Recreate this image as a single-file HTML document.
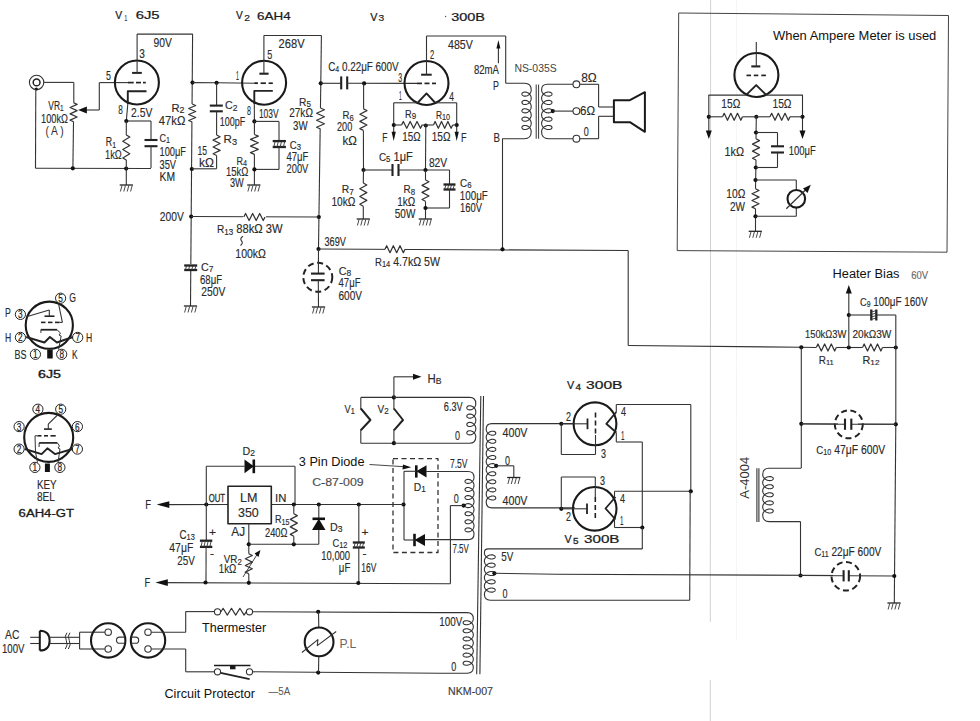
<!DOCTYPE html>
<html><head><meta charset="utf-8"><style>
html,body{margin:0;padding:0;background:#fff;}
body{width:980px;height:721px;overflow:hidden;}
svg{display:block;}
</style></head><body>
<svg width="980" height="721" viewBox="0 0 980 721" stroke-linecap="butt">
<rect width="980" height="721" fill="#fff"/>
<line x1="710.6" y1="0" x2="710.3" y2="622" stroke="#d2d2d2" stroke-width="1.0"/>
<line x1="710.3" y1="680" x2="710.3" y2="721" stroke="#d2d2d2" stroke-width="1.0"/>
<line x1="736.6" y1="0" x2="736.4" y2="640" stroke="#f1f1f1" stroke-width="0.8"/>
<circle cx="36.6" cy="82.4" r="7.2" fill="none" stroke="#333" stroke-width="1.1"/>
<circle cx="36.6" cy="82.4" r="3.4" fill="none" stroke="#222" stroke-width="1.5"/>
<circle cx="36.3" cy="89" r="1.6" fill="#111"/>
<line x1="43.8" y1="82.4" x2="73.8" y2="82.4" stroke="#333" stroke-width="1.1"/>
<line x1="73.8" y1="82.4" x2="73.8" y2="102.8" stroke="#333" stroke-width="1.1"/>
<polyline points="73.6,102.8 77.1,104.38 70.1,107.53 77.1,110.67 70.1,113.83 77.1,116.97 70.1,120.12 73.6,121.7" fill="none" stroke="#333" stroke-width="1.25" stroke-linejoin="round"/>
<line x1="73.5" y1="121.7" x2="72.9" y2="168.3" stroke="#333" stroke-width="1.1"/>
<line x1="35.8" y1="89" x2="35.5" y2="168.3" stroke="#333" stroke-width="1.1"/>
<line x1="35.5" y1="168.3" x2="151" y2="168.5" stroke="#333" stroke-width="1.1"/>
<circle cx="72.8" cy="168.3" r="2.1" fill="#111"/>
<circle cx="126.2" cy="168.6" r="2.1" fill="#111"/>
<line x1="128" y1="82.6" x2="99.5" y2="82.6" stroke="#333" stroke-width="1.1"/>
<line x1="99.3" y1="82.6" x2="99.3" y2="110" stroke="#333" stroke-width="1.1"/>
<line x1="99.3" y1="110" x2="86" y2="110" stroke="#333" stroke-width="1.1"/>
<polygon points="78.1,110 86.9,106.4 86.9,113.6" fill="#111"/>
<circle cx="136.9" cy="82.5" r="22" fill="none" stroke="#1a1a1a" stroke-width="2.1"/>
<line x1="137.1" y1="60.5" x2="137.1" y2="34.1" stroke="#333" stroke-width="1.1"/>
<line x1="137.1" y1="34.1" x2="192.8" y2="34.1" stroke="#333" stroke-width="1.1"/>
<line x1="132.1" y1="72.9" x2="141.8" y2="72.9" stroke="#222" stroke-width="2.0"/>
<line x1="137.1" y1="60.5" x2="137.1" y2="72.9" stroke="#333" stroke-width="1.1"/>
<line x1="128" y1="82.6" x2="133.7" y2="82.6" stroke="#222" stroke-width="1.7"/>
<line x1="136" y1="82.6" x2="141" y2="82.6" stroke="#222" stroke-width="1.7"/>
<line x1="143" y1="82.6" x2="145.8" y2="82.6" stroke="#222" stroke-width="1.7"/>
<polyline points="146.5,91.3 127.8,91.3 127.8,104" fill="none" stroke="#222" stroke-width="1.9" stroke-linejoin="round"/>
<line x1="127.8" y1="104" x2="126.3" y2="121" stroke="#333" stroke-width="1.1"/>
<line x1="126.3" y1="121" x2="151" y2="121" stroke="#333" stroke-width="1.1"/>
<circle cx="126.3" cy="121" r="2.1" fill="#111"/>
<polyline points="126.3,135 129.8,137.08 122.8,141.25 129.8,145.42 122.8,149.58 129.8,153.75 122.8,157.92 126.3,160" fill="none" stroke="#333" stroke-width="1.25" stroke-linejoin="round"/>
<line x1="126.3" y1="121" x2="126.3" y2="135" stroke="#333" stroke-width="1.1"/>
<line x1="126.3" y1="160" x2="126.3" y2="185" stroke="#333" stroke-width="1.1"/>
<line x1="151" y1="121" x2="151" y2="140" stroke="#333" stroke-width="1.1"/>
<line x1="144.5" y1="140" x2="157.5" y2="140" stroke="#222" stroke-width="2.1"/>
<line x1="144.5" y1="146.2" x2="157.5" y2="146.2" stroke="#222" stroke-width="2.1"/>
<line x1="151" y1="146.2" x2="151" y2="168" stroke="#333" stroke-width="1.1"/>
<line x1="119.7" y1="185" x2="132.9" y2="185" stroke="#222" stroke-width="1.3"/>
<line x1="122" y1="185.5" x2="120.4" y2="191.5" stroke="#333" stroke-width="0.9"/>
<line x1="125.4" y1="185.5" x2="123.8" y2="191.5" stroke="#333" stroke-width="0.9"/>
<line x1="128.8" y1="185.5" x2="127.2" y2="191.5" stroke="#333" stroke-width="0.9"/>
<line x1="132.2" y1="185.5" x2="130.6" y2="191.5" stroke="#333" stroke-width="0.9"/>
<line x1="192.6" y1="34" x2="190.5" y2="306" stroke="#333" stroke-width="1.1"/>
<circle cx="192.5" cy="82.6" r="2.1" fill="#111"/>
<circle cx="191.8" cy="169" r="2.1" fill="#111"/>
<circle cx="191.2" cy="216.5" r="2.1" fill="#111"/>
<rect x="189" y="104" width="7" height="18" fill="#fff"/>
<polyline points="192.2,104 195.7,105.5 188.7,108.5 195.7,111.5 188.7,114.5 195.7,117.5 188.7,120.5 192.2,122" fill="none" stroke="#333" stroke-width="1.25" stroke-linejoin="round"/>
<line x1="192.5" y1="82.6" x2="216.6" y2="82.8" stroke="#333" stroke-width="1.1"/>
<line x1="216.6" y1="82.8" x2="257.9" y2="83.2" stroke="#333" stroke-width="1.1"/>
<circle cx="216.6" cy="82.8" r="2.1" fill="#111"/>
<line x1="216.6" y1="82.8" x2="216.6" y2="105.6" stroke="#333" stroke-width="1.1"/>
<line x1="209.8" y1="105.6" x2="222.8" y2="105.6" stroke="#222" stroke-width="2.1"/>
<line x1="209.8" y1="111.3" x2="222.8" y2="111.3" stroke="#222" stroke-width="2.1"/>
<line x1="216.6" y1="111.3" x2="216.6" y2="135" stroke="#333" stroke-width="1.1"/>
<polyline points="216.6,135 220.1,136.71 213.1,140.12 220.1,143.54 213.1,146.96 220.1,150.38 213.1,153.79 216.6,155.5" fill="none" stroke="#333" stroke-width="1.25" stroke-linejoin="round"/>
<line x1="216.6" y1="155.5" x2="216.6" y2="168.8" stroke="#333" stroke-width="1.1"/>
<line x1="216.6" y1="168.8" x2="191.8" y2="168.8" stroke="#333" stroke-width="1.1"/>
<rect x="183" y="264" width="15" height="7" fill="#fff"/>
<line x1="184.2" y1="265.5" x2="197.2" y2="265.5" stroke="#222" stroke-width="2.3"/>
<line x1="184.2" y1="270" x2="197.2" y2="270" stroke="#222" stroke-width="2.3"/>
<line x1="186.7" y1="265.5" x2="185.3" y2="270" stroke="#333" stroke-width="0.9"/>
<line x1="189.83" y1="265.5" x2="188.43" y2="270" stroke="#333" stroke-width="0.9"/>
<line x1="192.97" y1="265.5" x2="191.57" y2="270" stroke="#333" stroke-width="0.9"/>
<line x1="196.1" y1="265.5" x2="194.7" y2="270" stroke="#333" stroke-width="0.9"/>
<line x1="183.9" y1="306" x2="197.1" y2="306" stroke="#222" stroke-width="1.3"/>
<line x1="186.2" y1="306.5" x2="184.6" y2="312.5" stroke="#333" stroke-width="0.9"/>
<line x1="189.6" y1="306.5" x2="188" y2="312.5" stroke="#333" stroke-width="0.9"/>
<line x1="193" y1="306.5" x2="191.4" y2="312.5" stroke="#333" stroke-width="0.9"/>
<line x1="196.4" y1="306.5" x2="194.8" y2="312.5" stroke="#333" stroke-width="0.9"/>
<circle cx="264.1" cy="82.7" r="22" fill="none" stroke="#1a1a1a" stroke-width="2.1"/>
<line x1="263.9" y1="60.5" x2="263.9" y2="35.5" stroke="#333" stroke-width="1.1"/>
<line x1="263.9" y1="35.5" x2="321.4" y2="35.5" stroke="#333" stroke-width="1.1"/>
<line x1="321.4" y1="35.5" x2="320.8" y2="83.3" stroke="#333" stroke-width="1.1"/>
<line x1="259.4" y1="73.7" x2="268.6" y2="73.7" stroke="#222" stroke-width="2.1"/>
<line x1="263.9" y1="60.5" x2="263.9" y2="73.7" stroke="#333" stroke-width="1.1"/>
<line x1="254.5" y1="83.2" x2="257.9" y2="83.2" stroke="#222" stroke-width="1.7"/>
<line x1="260.6" y1="83.2" x2="265.9" y2="83.2" stroke="#222" stroke-width="1.7"/>
<line x1="268.6" y1="83.2" x2="272.8" y2="83.2" stroke="#222" stroke-width="1.7"/>
<polyline points="272.8,90.9 254.3,90.9 254.3,104" fill="none" stroke="#222" stroke-width="1.9" stroke-linejoin="round"/>
<line x1="254.3" y1="104" x2="254.4" y2="121.4" stroke="#333" stroke-width="1.1"/>
<circle cx="254.4" cy="121.4" r="2.1" fill="#111"/>
<line x1="254.4" y1="121.4" x2="279" y2="121.4" stroke="#333" stroke-width="1.1"/>
<line x1="279" y1="121.4" x2="279" y2="141.1" stroke="#333" stroke-width="1.1"/>
<line x1="272.7" y1="141.1" x2="285.9" y2="141.1" stroke="#222" stroke-width="2.3"/>
<line x1="272.7" y1="147" x2="285.9" y2="147" stroke="#222" stroke-width="2.3"/>
<line x1="275.2" y1="141.1" x2="273.8" y2="147" stroke="#333" stroke-width="0.9"/>
<line x1="278.4" y1="141.1" x2="277" y2="147" stroke="#333" stroke-width="0.9"/>
<line x1="281.6" y1="141.1" x2="280.2" y2="147" stroke="#333" stroke-width="0.9"/>
<line x1="284.8" y1="141.1" x2="283.4" y2="147" stroke="#333" stroke-width="0.9"/>
<line x1="279" y1="147" x2="279" y2="169.4" stroke="#333" stroke-width="1.1"/>
<line x1="279" y1="169.4" x2="254.4" y2="169.4" stroke="#333" stroke-width="1.1"/>
<line x1="254.4" y1="121.4" x2="254.4" y2="134.5" stroke="#333" stroke-width="1.1"/>
<polyline points="254.4,134.5 258.3,136.15 250.5,139.45 258.3,142.75 250.5,146.05 258.3,149.35 250.5,152.65 254.4,154.3" fill="none" stroke="#333" stroke-width="1.25" stroke-linejoin="round"/>
<line x1="254.4" y1="154.3" x2="254.4" y2="185" stroke="#333" stroke-width="1.1"/>
<circle cx="254.4" cy="169.4" r="2.1" fill="#111"/>
<line x1="247.2" y1="185" x2="260.4" y2="185" stroke="#222" stroke-width="1.3"/>
<line x1="249.5" y1="185.5" x2="247.9" y2="191.5" stroke="#333" stroke-width="0.9"/>
<line x1="252.9" y1="185.5" x2="251.3" y2="191.5" stroke="#333" stroke-width="0.9"/>
<line x1="256.3" y1="185.5" x2="254.7" y2="191.5" stroke="#333" stroke-width="0.9"/>
<line x1="259.7" y1="185.5" x2="258.1" y2="191.5" stroke="#333" stroke-width="0.9"/>
<line x1="320.8" y1="83.3" x2="318.5" y2="249" stroke="#333" stroke-width="1.1"/>
<circle cx="320.8" cy="83.3" r="2.1" fill="#111"/>
<circle cx="318.8" cy="217" r="2.1" fill="#111"/>
<circle cx="318.5" cy="249" r="2.1" fill="#111"/>
<rect x="316" y="108" width="9" height="21" fill="#fff"/>
<polyline points="320.5,108 324.4,109.75 316.6,113.25 324.4,116.75 316.6,120.25 324.4,123.75 316.6,127.25 320.5,129" fill="none" stroke="#333" stroke-width="1.25" stroke-linejoin="round"/>
<line x1="320.8" y1="83.3" x2="341.2" y2="83.3" stroke="#333" stroke-width="1.1"/>
<line x1="341.2" y1="76.4" x2="341.2" y2="89.4" stroke="#222" stroke-width="2.1"/>
<line x1="347.2" y1="76.4" x2="347.2" y2="89.4" stroke="#222" stroke-width="2.1"/>
<line x1="347.2" y1="83.3" x2="417" y2="83.4" stroke="#333" stroke-width="1.1"/>
<circle cx="364.1" cy="83.4" r="2.1" fill="#111"/>
<line x1="363.6" y1="83.4" x2="363.6" y2="108.8" stroke="#333" stroke-width="1.1"/>
<polyline points="363.4,108.8 366.9,110.6 359.9,114.2 366.9,117.8 359.9,121.4 366.9,125 359.9,128.6 363.4,130.4" fill="none" stroke="#333" stroke-width="1.25" stroke-linejoin="round"/>
<line x1="363.4" y1="130.4" x2="363.5" y2="170" stroke="#333" stroke-width="1.1"/>
<circle cx="363.5" cy="170" r="2.1" fill="#111"/>
<line x1="363.5" y1="170" x2="392.5" y2="170" stroke="#333" stroke-width="1.1"/>
<line x1="392.5" y1="164" x2="392.5" y2="176" stroke="#222" stroke-width="2.1"/>
<line x1="398.5" y1="164" x2="398.5" y2="176" stroke="#222" stroke-width="2.1"/>
<line x1="398.5" y1="170" x2="449.5" y2="170" stroke="#333" stroke-width="1.1"/>
<line x1="363.5" y1="170" x2="363.3" y2="183" stroke="#333" stroke-width="1.1"/>
<polyline points="363.3,183 366.8,184.93 359.8,188.8 366.8,192.67 359.8,196.53 366.8,200.4 359.8,204.27 363.3,206.2" fill="none" stroke="#333" stroke-width="1.25" stroke-linejoin="round"/>
<line x1="363.3" y1="206.2" x2="363.3" y2="219" stroke="#333" stroke-width="1.1"/>
<line x1="356.7" y1="219" x2="369.9" y2="219" stroke="#222" stroke-width="1.3"/>
<line x1="359" y1="219.5" x2="357.4" y2="225.5" stroke="#333" stroke-width="0.9"/>
<line x1="362.4" y1="219.5" x2="360.8" y2="225.5" stroke="#333" stroke-width="0.9"/>
<line x1="365.8" y1="219.5" x2="364.2" y2="225.5" stroke="#333" stroke-width="0.9"/>
<line x1="369.2" y1="219.5" x2="367.6" y2="225.5" stroke="#333" stroke-width="0.9"/>
<circle cx="317.8" cy="277.3" r="14.5" fill="none" stroke="#222" stroke-width="2.0" stroke-dasharray="6,3.6"/>
<line x1="318.5" y1="249" x2="318.4" y2="273.6" stroke="#333" stroke-width="1.1"/>
<line x1="311" y1="273.6" x2="324.6" y2="273.6" stroke="#222" stroke-width="2.1"/>
<line x1="311" y1="280.2" x2="324.6" y2="280.2" stroke="#222" stroke-width="2.1"/>
<line x1="318.3" y1="280.2" x2="318.5" y2="307" stroke="#333" stroke-width="1.1"/>
<line x1="311.9" y1="307" x2="325.1" y2="307" stroke="#222" stroke-width="1.3"/>
<line x1="314.2" y1="307.5" x2="312.6" y2="313.5" stroke="#333" stroke-width="0.9"/>
<line x1="317.6" y1="307.5" x2="316" y2="313.5" stroke="#333" stroke-width="0.9"/>
<line x1="321" y1="307.5" x2="319.4" y2="313.5" stroke="#333" stroke-width="0.9"/>
<line x1="324.4" y1="307.5" x2="322.8" y2="313.5" stroke="#333" stroke-width="0.9"/>
<line x1="191.2" y1="216.5" x2="318.8" y2="217" stroke="#333" stroke-width="1.1"/>
<rect x="243" y="212" width="23" height="9" fill="#fff"/>
<polyline points="243.8,217 245.57,213.5 249.1,220.5 252.63,213.5 256.17,220.5 259.7,213.5 263.23,220.5 265,217" fill="none" stroke="#333" stroke-width="1.25" stroke-linejoin="round"/>
<line x1="318.5" y1="249" x2="628.2" y2="250.5" stroke="#333" stroke-width="1.1"/>
<rect x="385" y="244" width="20" height="9" fill="#fff"/>
<polyline points="385,249.2 386.67,245.7 390,252.7 393.33,245.7 396.67,252.7 400,245.7 403.33,252.7 405,249.2" fill="none" stroke="#333" stroke-width="1.25" stroke-linejoin="round"/>
<circle cx="426.5" cy="83" r="22" fill="none" stroke="#1a1a1a" stroke-width="2.1"/>
<line x1="426.5" y1="61" x2="426.5" y2="36" stroke="#333" stroke-width="1.1"/>
<line x1="426.5" y1="36" x2="505.7" y2="36" stroke="#333" stroke-width="1.1"/>
<line x1="505.7" y1="36" x2="505.7" y2="83.3" stroke="#333" stroke-width="1.1"/>
<line x1="421.1" y1="74.7" x2="431.7" y2="74.7" stroke="#222" stroke-width="2.0"/>
<line x1="426.5" y1="61" x2="426.5" y2="74.7" stroke="#333" stroke-width="1.1"/>
<line x1="417" y1="83.4" x2="422" y2="83.4" stroke="#222" stroke-width="1.7"/>
<line x1="424.5" y1="83.4" x2="429.5" y2="83.4" stroke="#222" stroke-width="1.7"/>
<line x1="432" y1="83.4" x2="436" y2="83.4" stroke="#222" stroke-width="1.7"/>
<polyline points="417.5,103 426.5,93.4 435.4,103" fill="none" stroke="#222" stroke-width="1.9" stroke-linejoin="round"/>
<line x1="393.7" y1="102.8" x2="417.5" y2="102.8" stroke="#333" stroke-width="1.1"/>
<line x1="435.4" y1="102.8" x2="456.7" y2="102.8" stroke="#333" stroke-width="1.1"/>
<line x1="393.7" y1="102.8" x2="393.7" y2="133" stroke="#333" stroke-width="1.1"/>
<line x1="456.7" y1="102.8" x2="456.7" y2="133" stroke="#333" stroke-width="1.1"/>
<polygon points="393.7,141.1 391.6,131.7 395.8,131.7" fill="#111"/>
<polygon points="456.7,141.1 454.6,131.7 458.8,131.7" fill="#111"/>
<circle cx="393.8" cy="125" r="2.1" fill="#111"/>
<circle cx="456.7" cy="125" r="2.1" fill="#111"/>
<circle cx="425.8" cy="125.5" r="2.1" fill="#111"/>
<line x1="393.8" y1="125" x2="401.6" y2="125" stroke="#333" stroke-width="1.1"/>
<polyline points="401.6,124.9 403.32,121.5 406.75,128.3 410.18,121.5 413.62,128.3 417.05,121.5 420.48,128.3 422.2,124.9" fill="none" stroke="#333" stroke-width="1.25" stroke-linejoin="round"/>
<line x1="422.2" y1="125" x2="433.5" y2="125" stroke="#333" stroke-width="1.1"/>
<polyline points="433.5,124.9 435.1,121.5 438.3,128.3 441.5,121.5 444.7,128.3 447.9,121.5 451.1,128.3 452.7,124.9" fill="none" stroke="#333" stroke-width="1.25" stroke-linejoin="round"/>
<line x1="452.7" y1="125" x2="456.7" y2="125" stroke="#333" stroke-width="1.1"/>
<line x1="425.8" y1="125.5" x2="425.5" y2="170" stroke="#333" stroke-width="1.1"/>
<circle cx="425.5" cy="170" r="2.1" fill="#111"/>
<line x1="449.5" y1="170" x2="449.5" y2="184.5" stroke="#333" stroke-width="1.1"/>
<line x1="443.5" y1="184.5" x2="455.5" y2="184.5" stroke="#222" stroke-width="2.3"/>
<line x1="443.5" y1="189.5" x2="455.5" y2="189.5" stroke="#222" stroke-width="2.3"/>
<line x1="446" y1="184.5" x2="444.6" y2="189.5" stroke="#333" stroke-width="0.9"/>
<line x1="448.8" y1="184.5" x2="447.4" y2="189.5" stroke="#333" stroke-width="0.9"/>
<line x1="451.6" y1="184.5" x2="450.2" y2="189.5" stroke="#333" stroke-width="0.9"/>
<line x1="454.4" y1="184.5" x2="453" y2="189.5" stroke="#333" stroke-width="0.9"/>
<line x1="449.5" y1="189.5" x2="449.5" y2="208" stroke="#333" stroke-width="1.1"/>
<line x1="449.5" y1="208" x2="425.5" y2="208" stroke="#333" stroke-width="1.1"/>
<line x1="425.5" y1="170" x2="425.5" y2="180" stroke="#333" stroke-width="1.1"/>
<polyline points="425.5,180 429,181.78 422,185.32 429,188.88 422,192.43 429,195.98 422,199.53 425.5,201.3" fill="none" stroke="#333" stroke-width="1.25" stroke-linejoin="round"/>
<line x1="425.5" y1="201.3" x2="425.5" y2="219" stroke="#333" stroke-width="1.1"/>
<circle cx="425.5" cy="208" r="2.1" fill="#111"/>
<line x1="418.7" y1="219" x2="431.9" y2="219" stroke="#222" stroke-width="1.3"/>
<line x1="421" y1="219.5" x2="419.4" y2="225.5" stroke="#333" stroke-width="0.9"/>
<line x1="424.4" y1="219.5" x2="422.8" y2="225.5" stroke="#333" stroke-width="0.9"/>
<line x1="427.8" y1="219.5" x2="426.2" y2="225.5" stroke="#333" stroke-width="0.9"/>
<line x1="431.2" y1="219.5" x2="429.6" y2="225.5" stroke="#333" stroke-width="0.9"/>
<line x1="498.4" y1="63.2" x2="498.4" y2="47" stroke="#333" stroke-width="1.1"/>
<polygon points="498.4,39.9 496.4,48.6 500.4,48.6" fill="#111"/>
<line x1="502.5" y1="138.5" x2="502.5" y2="249.3" stroke="#333" stroke-width="1.1"/>
<circle cx="502.5" cy="249.3" r="2.1" fill="#111"/>
<path d="M505.7,83.3 L524.58,83.3 Q531.2,83.3 531.2,89.92 L531.16,90.61 531.04,91.29 530.85,91.95 530.58,92.58 530.24,93.18 529.84,93.74 529.38,94.25 528.88,94.71 528.33,95.11 527.75,95.45 527.16,95.73 526.55,95.93 525.94,96.07 525.35,96.15 524.77,96.16 524.23,96.1 523.72,95.99 523.26,95.83 522.86,95.62 522.52,95.36 522.25,95.08 522.06,94.77 521.94,94.44 521.9,94.1 521.94,93.76 522.06,93.43 522.25,93.12 522.52,92.84 522.86,92.58 523.26,92.37 523.72,92.21 524.23,92.1 524.77,92.04 525.35,92.05 525.94,92.13 526.55,92.27 527.16,92.47 527.75,92.75 528.33,93.09 528.88,93.49 529.38,93.95 529.84,94.46 530.24,95.02 530.58,95.62 530.85,96.25 531.04,96.91 531.16,97.59 531.2,98.27 531.16,98.96 531.04,99.64 530.85,100.3 530.58,100.93 530.24,101.53 529.84,102.09 529.38,102.6 528.88,103.06 528.33,103.46 527.75,103.8 527.16,104.08 526.55,104.28 525.94,104.42 525.35,104.5 524.77,104.51 524.23,104.45 523.72,104.34 523.26,104.18 522.86,103.97 522.52,103.71 522.25,103.43 522.06,103.12 521.94,102.79 521.9,102.45 521.94,102.11 522.06,101.78 522.25,101.47 522.52,101.19 522.86,100.93 523.26,100.72 523.72,100.56 524.23,100.45 524.77,100.39 525.35,100.4 525.94,100.48 526.55,100.62 527.16,100.82 527.75,101.1 528.33,101.44 528.88,101.84 529.38,102.3 529.84,102.81 530.24,103.37 530.58,103.97 530.85,104.6 531.04,105.26 531.16,105.94 531.2,106.62 531.16,107.31 531.04,107.99 530.85,108.65 530.58,109.28 530.24,109.88 529.84,110.44 529.38,110.95 528.88,111.41 528.33,111.81 527.75,112.15 527.16,112.43 526.55,112.63 525.94,112.77 525.35,112.85 524.77,112.86 524.23,112.8 523.72,112.69 523.26,112.53 522.86,112.32 522.52,112.06 522.25,111.78 522.06,111.47 521.94,111.14 521.9,110.8 521.94,110.46 522.06,110.13 522.25,109.82 522.52,109.54 522.86,109.28 523.26,109.07 523.72,108.91 524.23,108.8 524.77,108.74 525.35,108.75 525.94,108.83 526.55,108.97 527.16,109.17 527.75,109.45 528.33,109.79 528.88,110.19 529.38,110.65 529.84,111.16 530.24,111.72 530.58,112.32 530.85,112.95 531.04,113.61 531.16,114.29 531.2,114.97 531.16,115.66 531.04,116.34 530.85,117 530.58,117.63 530.24,118.23 529.84,118.79 529.38,119.3 528.88,119.76 528.33,120.16 527.75,120.5 527.16,120.78 526.55,120.98 525.94,121.12 525.35,121.2 524.77,121.21 524.23,121.15 523.72,121.04 523.26,120.88 522.86,120.67 522.52,120.41 522.25,120.13 522.06,119.82 521.94,119.49 521.9,119.15 521.94,118.81 522.06,118.48 522.25,118.17 522.52,117.89 522.86,117.63 523.26,117.42 523.72,117.26 524.23,117.15 524.77,117.09 525.35,117.1 525.94,117.18 526.55,117.32 527.16,117.52 527.75,117.8 528.33,118.14 528.88,118.54 529.38,119 529.84,119.51 530.24,120.07 530.58,120.67 530.85,121.3 531.04,121.96 531.16,122.64 531.2,123.32 531.16,124.01 531.04,124.69 530.85,125.35 530.58,125.98 530.24,126.58 529.84,127.14 529.38,127.65 528.88,128.11 528.33,128.51 527.75,128.85 527.16,129.13 526.55,129.33 525.94,129.47 525.35,129.55 524.77,129.56 524.23,129.5 523.72,129.39 523.26,129.23 522.86,129.02 522.52,128.76 522.25,128.48 522.06,128.17 521.94,127.84 521.9,127.5 521.94,127.16 522.06,126.83 522.25,126.52 522.52,126.24 522.86,125.98 523.26,125.77 523.72,125.61 524.23,125.5 524.77,125.44 525.35,125.45 525.94,125.53 526.55,125.67 527.16,125.87 527.75,126.15 528.33,126.49 528.88,126.89 529.38,127.35 529.84,127.86 530.24,128.42 530.58,129.02 530.85,129.65 531.04,130.31 531.16,130.99 531.2,131.68 Q531.2,138.7 524.18,138.7 L502.5,138.7" fill="none" stroke="#333" stroke-width="1.1" stroke-linejoin="round"/>
<line x1="536.2" y1="84.5" x2="536.2" y2="138.7" stroke="#333" stroke-width="1.0"/>
<line x1="538.6" y1="84.5" x2="538.6" y2="138.7" stroke="#333" stroke-width="1.0"/>
<path d="M573,84.3 L547.23,84.3 Q541.6,84.3 541.6,89.92 L541.64,90.61 541.78,91.29 542,91.95 542.3,92.58 542.67,93.18 543.12,93.74 543.63,94.25 544.2,94.71 544.81,95.11 545.45,95.45 546.12,95.73 546.8,95.93 547.48,96.07 548.15,96.15 548.79,96.16 549.4,96.1 549.97,95.99 550.48,95.83 550.93,95.62 551.3,95.36 551.6,95.08 551.82,94.77 551.96,94.44 552,94.1 551.96,93.76 551.82,93.43 551.6,93.12 551.3,92.84 550.93,92.58 550.48,92.37 549.97,92.21 549.4,92.1 548.79,92.04 548.15,92.05 547.48,92.13 546.8,92.27 546.12,92.47 545.45,92.75 544.81,93.09 544.2,93.49 543.63,93.95 543.12,94.46 542.67,95.02 542.3,95.62 542,96.25 541.78,96.91 541.64,97.59 541.6,98.27 541.64,98.96 541.78,99.64 542,100.3 542.3,100.93 542.67,101.53 543.12,102.09 543.63,102.6 544.2,103.06 544.81,103.46 545.45,103.8 546.12,104.08 546.8,104.28 547.48,104.42 548.15,104.5 548.79,104.51 549.4,104.45 549.97,104.34 550.48,104.18 550.93,103.97 551.3,103.71 551.6,103.43 551.82,103.12 551.96,102.79 552,102.45 551.96,102.11 551.82,101.78 551.6,101.47 551.3,101.19 550.93,100.93 550.48,100.72 549.97,100.56 549.4,100.45 548.79,100.39 548.15,100.4 547.48,100.48 546.8,100.62 546.12,100.82 545.45,101.1 544.81,101.44 544.2,101.84 543.63,102.3 543.12,102.81 542.67,103.37 542.3,103.97 542,104.6 541.78,105.26 541.64,105.94 541.6,106.62 541.64,107.31 541.78,107.99 542,108.65 542.3,109.28 542.67,109.88 543.12,110.44 543.63,110.95 544.2,111.41 544.81,111.81 545.45,112.15 546.12,112.43 546.8,112.63 547.48,112.77 548.15,112.85 548.79,112.86 549.4,112.8 549.97,112.69 550.48,112.53 550.93,112.32 551.3,112.06 551.6,111.78 551.82,111.47 551.96,111.14 552,110.8 551.96,110.46 551.82,110.13 551.6,109.82 551.3,109.54 550.93,109.28 550.48,109.07 549.97,108.91 549.4,108.8 548.79,108.74 548.15,108.75 547.48,108.83 546.8,108.97 546.12,109.17 545.45,109.45 544.81,109.79 544.2,110.19 543.63,110.65 543.12,111.16 542.67,111.72 542.3,112.32 542,112.95 541.78,113.61 541.64,114.29 541.6,114.97 541.64,115.66 541.78,116.34 542,117 542.3,117.63 542.67,118.23 543.12,118.79 543.63,119.3 544.2,119.76 544.81,120.16 545.45,120.5 546.12,120.78 546.8,120.98 547.48,121.12 548.15,121.2 548.79,121.21 549.4,121.15 549.97,121.04 550.48,120.88 550.93,120.67 551.3,120.41 551.6,120.13 551.82,119.82 551.96,119.49 552,119.15 551.96,118.81 551.82,118.48 551.6,118.17 551.3,117.89 550.93,117.63 550.48,117.42 549.97,117.26 549.4,117.15 548.79,117.09 548.15,117.1 547.48,117.18 546.8,117.32 546.12,117.52 545.45,117.8 544.81,118.14 544.2,118.54 543.63,119 543.12,119.51 542.67,120.07 542.3,120.67 542,121.3 541.78,121.96 541.64,122.64 541.6,123.32 541.64,124.01 541.78,124.69 542,125.35 542.3,125.98 542.67,126.58 543.12,127.14 543.63,127.65 544.2,128.11 544.81,128.51 545.45,128.85 546.12,129.13 546.8,129.33 547.48,129.47 548.15,129.55 548.79,129.56 549.4,129.5 549.97,129.39 550.48,129.23 550.93,129.02 551.3,128.76 551.6,128.48 551.82,128.17 551.96,127.84 552,127.5 551.96,127.16 551.82,126.83 551.6,126.52 551.3,126.24 550.93,125.98 550.48,125.77 549.97,125.61 549.4,125.5 548.79,125.44 548.15,125.45 547.48,125.53 546.8,125.67 546.12,125.87 545.45,126.15 544.81,126.49 544.2,126.89 543.63,127.35 543.12,127.86 542.67,128.42 542.3,129.02 542,129.65 541.78,130.31 541.64,130.99 541.6,131.68 Q541.6,138.7 548.62,138.7 L573,138.7" fill="none" stroke="#333" stroke-width="1.1" stroke-linejoin="round"/>
<circle cx="552.8" cy="111.1" r="2.1" fill="#111"/>
<line x1="552.8" y1="111.1" x2="573" y2="111.1" stroke="#333" stroke-width="1.1"/>
<circle cx="576.4" cy="84.3" r="3.4" fill="#fff" stroke="#333" stroke-width="1.1"/>
<circle cx="576.4" cy="111.1" r="3.4" fill="#fff" stroke="#333" stroke-width="1.1"/>
<circle cx="576.4" cy="138.7" r="3.4" fill="#fff" stroke="#333" stroke-width="1.1"/>
<line x1="579.8" y1="84.3" x2="598.6" y2="84.3" stroke="#333" stroke-width="1.1"/>
<line x1="598.6" y1="84.3" x2="598.6" y2="107" stroke="#333" stroke-width="1.1"/>
<line x1="598.6" y1="107" x2="613.8" y2="107" stroke="#333" stroke-width="1.1"/>
<line x1="579.8" y1="138.7" x2="598.6" y2="138.7" stroke="#333" stroke-width="1.1"/>
<line x1="598.6" y1="138.7" x2="598.6" y2="116.3" stroke="#333" stroke-width="1.1"/>
<line x1="598.6" y1="116.3" x2="613.8" y2="116.3" stroke="#333" stroke-width="1.1"/>
<polygon points="613.9,100.2 629.9,100.2 644.9,92.2 644.9,131.8 629.9,122.2 613.9,122.2" fill="none" stroke="#1a1a1a" stroke-width="2.0" stroke-linejoin="round"/>
<polyline points="677.2,250.6 678.7,13 948.5,15.5 947,252.2 677.2,250.6" fill="none" stroke="#444" stroke-width="1.0" stroke-linejoin="round"/>
<circle cx="756.4" cy="75" r="22" fill="none" stroke="#1a1a1a" stroke-width="2.1"/>
<line x1="756.3" y1="53" x2="756.3" y2="42" stroke="#333" stroke-width="1.1"/>
<line x1="751.3" y1="66.4" x2="760.3" y2="66.4" stroke="#222" stroke-width="2.1"/>
<line x1="756.3" y1="53" x2="756.3" y2="66.4" stroke="#333" stroke-width="1.1"/>
<line x1="746.5" y1="75.4" x2="751" y2="75.4" stroke="#222" stroke-width="1.7"/>
<line x1="753.8" y1="75.4" x2="758.3" y2="75.4" stroke="#222" stroke-width="1.7"/>
<line x1="761.3" y1="75.4" x2="765.9" y2="75.4" stroke="#222" stroke-width="1.7"/>
<polyline points="746.5,94.6 756.2,85.1 765.9,94.6" fill="none" stroke="#222" stroke-width="1.9" stroke-linejoin="round"/>
<line x1="708.6" y1="95.1" x2="747" y2="95.1" stroke="#333" stroke-width="1.1"/>
<line x1="765.5" y1="95.1" x2="802.9" y2="95.1" stroke="#333" stroke-width="1.1"/>
<line x1="708.8" y1="95" x2="708.8" y2="131" stroke="#333" stroke-width="1.1"/>
<line x1="802.5" y1="95" x2="802.5" y2="131" stroke="#333" stroke-width="1.1"/>
<polygon points="708.8,139 705.8,130.5 711.8,130.5" fill="#111"/>
<polygon points="802.5,139 799.5,130.5 805.5,130.5" fill="#111"/>
<circle cx="708.8" cy="116.8" r="2.1" fill="#111"/>
<circle cx="802.5" cy="116.8" r="2.1" fill="#111"/>
<circle cx="756.3" cy="116.8" r="2.1" fill="#111"/>
<line x1="708.8" y1="116.8" x2="722.5" y2="116.8" stroke="#333" stroke-width="1.1"/>
<polyline points="722.5,116.8 724.17,113.3 727.5,120.3 730.83,113.3 734.17,120.3 737.5,113.3 740.83,120.3 742.5,116.8" fill="none" stroke="#333" stroke-width="1.25" stroke-linejoin="round"/>
<line x1="742.5" y1="116.8" x2="770" y2="116.8" stroke="#333" stroke-width="1.1"/>
<polyline points="770,116.8 771.67,113.3 775,120.3 778.33,113.3 781.67,120.3 785,113.3 788.33,120.3 790,116.8" fill="none" stroke="#333" stroke-width="1.25" stroke-linejoin="round"/>
<line x1="790" y1="116.8" x2="802.5" y2="116.8" stroke="#333" stroke-width="1.1"/>
<line x1="756.3" y1="116.8" x2="756" y2="138.8" stroke="#333" stroke-width="1.1"/>
<circle cx="756" cy="132.5" r="2.1" fill="#111"/>
<polyline points="756,138.8 759.5,140.57 752.5,144.1 759.5,147.63 752.5,151.17 759.5,154.7 752.5,158.23 756,160" fill="none" stroke="#333" stroke-width="1.25" stroke-linejoin="round"/>
<line x1="756" y1="160" x2="755.5" y2="188.8" stroke="#333" stroke-width="1.1"/>
<circle cx="755.8" cy="167.5" r="2.1" fill="#111"/>
<line x1="756" y1="132.5" x2="777.5" y2="132.5" stroke="#333" stroke-width="1.1"/>
<line x1="777.5" y1="132.5" x2="777.5" y2="146.3" stroke="#333" stroke-width="1.1"/>
<line x1="771" y1="146.3" x2="784" y2="146.3" stroke="#222" stroke-width="2.1"/>
<line x1="771" y1="152.5" x2="784" y2="152.5" stroke="#222" stroke-width="2.1"/>
<line x1="777.5" y1="152.5" x2="777.5" y2="167.5" stroke="#333" stroke-width="1.1"/>
<line x1="777.5" y1="167.5" x2="755.8" y2="167.5" stroke="#333" stroke-width="1.1"/>
<circle cx="755.5" cy="180" r="2.1" fill="#111"/>
<polyline points="755.5,188.8 759,190.47 752,193.8 759,197.13 752,200.47 759,203.8 752,207.13 755.5,208.8" fill="none" stroke="#333" stroke-width="1.25" stroke-linejoin="round"/>
<line x1="755.5" y1="208.8" x2="755.5" y2="231.3" stroke="#333" stroke-width="1.1"/>
<circle cx="755.5" cy="216.3" r="2.1" fill="#111"/>
<line x1="748.7" y1="231.3" x2="761.9" y2="231.3" stroke="#222" stroke-width="1.3"/>
<line x1="751" y1="231.8" x2="749.4" y2="237.8" stroke="#333" stroke-width="0.9"/>
<line x1="754.4" y1="231.8" x2="752.8" y2="237.8" stroke="#333" stroke-width="0.9"/>
<line x1="757.8" y1="231.8" x2="756.2" y2="237.8" stroke="#333" stroke-width="0.9"/>
<line x1="761.2" y1="231.8" x2="759.6" y2="237.8" stroke="#333" stroke-width="0.9"/>
<line x1="755.5" y1="180" x2="796.3" y2="180" stroke="#333" stroke-width="1.1"/>
<line x1="796.3" y1="180" x2="796.3" y2="190" stroke="#333" stroke-width="1.1"/>
<line x1="755.5" y1="216.3" x2="796.3" y2="216.3" stroke="#333" stroke-width="1.1"/>
<line x1="796.3" y1="216.3" x2="796.3" y2="207.5" stroke="#333" stroke-width="1.1"/>
<circle cx="796.3" cy="198.8" r="8.8" fill="none" stroke="#1a1a1a" stroke-width="2.1"/>
<line x1="786.3" y1="208.8" x2="806" y2="189.5" stroke="#333" stroke-width="1.2"/>
<polygon points="810.8,184.7 803,188.5 807.5,193" fill="#111"/>
<line x1="628.2" y1="250.5" x2="628.2" y2="345.5" stroke="#333" stroke-width="1.1"/>
<line x1="628.2" y1="345.5" x2="801.3" y2="347.3" stroke="#333" stroke-width="1.1"/>
<line x1="801.3" y1="347.3" x2="816" y2="347.5" stroke="#333" stroke-width="1.1"/>
<polyline points="816.3,347.5 817.97,344 821.3,351 824.63,344 827.97,351 831.3,344 834.63,351 836.3,347.5" fill="none" stroke="#333" stroke-width="1.25" stroke-linejoin="round"/>
<line x1="836.3" y1="347.5" x2="862.5" y2="347.5" stroke="#333" stroke-width="1.1"/>
<polyline points="862.5,347.5 864.17,344 867.5,351 870.83,344 874.17,351 877.5,344 880.83,351 882.5,347.5" fill="none" stroke="#333" stroke-width="1.25" stroke-linejoin="round"/>
<line x1="882.5" y1="347.5" x2="895.8" y2="347.5" stroke="#333" stroke-width="1.1"/>
<circle cx="801.3" cy="347.3" r="2.1" fill="#111"/>
<circle cx="848.8" cy="347.5" r="2.1" fill="#111"/>
<circle cx="895.8" cy="347.5" r="2.1" fill="#111"/>
<line x1="848.8" y1="347.5" x2="848.8" y2="292" stroke="#333" stroke-width="1.1"/>
<polygon points="848.8,285 845.8,293.5 851.8,293.5" fill="#111"/>
<circle cx="848.8" cy="315" r="2.1" fill="#111"/>
<line x1="848.8" y1="315" x2="871" y2="315" stroke="#333" stroke-width="1.1"/>
<line x1="871.3" y1="309.5" x2="871.3" y2="320.5" stroke="#222" stroke-width="2.3"/>
<line x1="876.3" y1="309.5" x2="876.3" y2="320.5" stroke="#222" stroke-width="2.3"/>
<line x1="871.3" y1="312" x2="876.3" y2="310.6" stroke="#333" stroke-width="0.9"/>
<line x1="871.3" y1="314.47" x2="876.3" y2="313.07" stroke="#333" stroke-width="0.9"/>
<line x1="871.3" y1="316.93" x2="876.3" y2="315.53" stroke="#333" stroke-width="0.9"/>
<line x1="871.3" y1="319.4" x2="876.3" y2="318" stroke="#333" stroke-width="0.9"/>
<line x1="876.3" y1="315" x2="895.8" y2="315" stroke="#333" stroke-width="1.1"/>
<line x1="895.8" y1="315" x2="895.8" y2="347.5" stroke="#333" stroke-width="1.1"/>
<line x1="801.3" y1="347.3" x2="801.3" y2="468" stroke="#333" stroke-width="1.1"/>
<line x1="895.8" y1="347.5" x2="895.8" y2="424.3" stroke="#333" stroke-width="1.1"/>
<line x1="895.8" y1="424.3" x2="894.3" y2="603" stroke="#333" stroke-width="1.1"/>
<circle cx="801.3" cy="423.8" r="2.1" fill="#111"/>
<circle cx="895.8" cy="424.3" r="2.1" fill="#111"/>
<rect x="833" y="409" width="30" height="30" fill="#fff"/>
<line x1="801.3" y1="423.8" x2="895.8" y2="424.3" stroke="#333" stroke-width="1.1"/>
<rect x="838" y="412" width="20" height="25" fill="#fff"/>
<circle cx="848.8" cy="424.3" r="14" fill="none" stroke="#222" stroke-width="2.0" stroke-dasharray="6,3.6"/>
<line x1="801.3" y1="424" x2="845" y2="424.2" stroke="#333" stroke-width="1.1"/>
<line x1="851.3" y1="424.2" x2="895.8" y2="424.3" stroke="#333" stroke-width="1.1"/>
<line x1="845" y1="418.6" x2="845" y2="429.8" stroke="#222" stroke-width="2.1"/>
<line x1="851.3" y1="418.6" x2="851.3" y2="429.8" stroke="#222" stroke-width="2.1"/>
<path d="M801.3,468.3 L768.95,468.3 Q762.7,468.3 762.7,474.55 L762.75,475.22 762.88,475.87 763.1,476.51 763.41,477.13 763.8,477.71 764.25,478.25 764.77,478.75 765.35,479.19 765.97,479.58 766.63,479.91 767.31,480.18 768,480.38 768.69,480.51 769.37,480.59 770.03,480.59 770.65,480.54 771.23,480.44 771.75,480.28 772.2,480.07 772.59,479.83 772.9,479.55 773.12,479.25 773.25,478.93 773.3,478.6 773.25,478.27 773.12,477.95 772.9,477.65 772.59,477.37 772.2,477.13 771.75,476.92 771.23,476.76 770.65,476.66 770.03,476.61 769.37,476.61 768.69,476.69 768,476.82 767.31,477.02 766.63,477.29 765.97,477.62 765.35,478.01 764.77,478.45 764.25,478.95 763.8,479.49 763.41,480.07 763.1,480.69 762.88,481.33 762.75,481.98 762.7,482.65 762.75,483.32 762.88,483.97 763.1,484.61 763.41,485.23 763.8,485.81 764.25,486.35 764.77,486.85 765.35,487.29 765.97,487.68 766.63,488.01 767.31,488.28 768,488.48 768.69,488.61 769.37,488.69 770.03,488.69 770.65,488.64 771.23,488.54 771.75,488.38 772.2,488.17 772.59,487.93 772.9,487.65 773.12,487.35 773.25,487.03 773.3,486.7 773.25,486.37 773.12,486.05 772.9,485.75 772.59,485.47 772.2,485.23 771.75,485.02 771.23,484.86 770.65,484.76 770.03,484.71 769.37,484.71 768.69,484.79 768,484.92 767.31,485.12 766.63,485.39 765.97,485.72 765.35,486.11 764.77,486.55 764.25,487.05 763.8,487.59 763.41,488.17 763.1,488.79 762.88,489.43 762.75,490.08 762.7,490.75 762.75,491.42 762.88,492.07 763.1,492.71 763.41,493.33 763.8,493.91 764.25,494.45 764.77,494.95 765.35,495.39 765.97,495.78 766.63,496.11 767.31,496.38 768,496.58 768.69,496.71 769.37,496.79 770.03,496.79 770.65,496.74 771.23,496.64 771.75,496.48 772.2,496.27 772.59,496.03 772.9,495.75 773.12,495.45 773.25,495.13 773.3,494.8 773.25,494.47 773.12,494.15 772.9,493.85 772.59,493.57 772.2,493.33 771.75,493.12 771.23,492.96 770.65,492.86 770.03,492.81 769.37,492.81 768.69,492.89 768,493.02 767.31,493.22 766.63,493.49 765.97,493.82 765.35,494.21 764.77,494.65 764.25,495.15 763.8,495.69 763.41,496.27 763.1,496.89 762.88,497.53 762.75,498.18 762.7,498.85 762.75,499.52 762.88,500.17 763.1,500.81 763.41,501.43 763.8,502.01 764.25,502.55 764.77,503.05 765.35,503.49 765.97,503.88 766.63,504.21 767.31,504.48 768,504.68 768.69,504.81 769.37,504.89 770.03,504.89 770.65,504.84 771.23,504.74 771.75,504.58 772.2,504.37 772.59,504.13 772.9,503.85 773.12,503.55 773.25,503.23 773.3,502.9 773.25,502.57 773.12,502.25 772.9,501.95 772.59,501.67 772.2,501.43 771.75,501.22 771.23,501.06 770.65,500.96 770.03,500.91 769.37,500.91 768.69,500.99 768,501.12 767.31,501.32 766.63,501.59 765.97,501.92 765.35,502.31 764.77,502.75 764.25,503.25 763.8,503.79 763.41,504.37 763.1,504.99 762.88,505.63 762.75,506.28 762.7,506.95 762.75,507.62 762.88,508.27 763.1,508.91 763.41,509.53 763.8,510.11 764.25,510.65 764.77,511.15 765.35,511.59 765.97,511.98 766.63,512.31 767.31,512.58 768,512.78 768.69,512.91 769.37,512.99 770.03,512.99 770.65,512.94 771.23,512.84 771.75,512.68 772.2,512.47 772.59,512.23 772.9,511.95 773.12,511.65 773.25,511.33 773.3,511 773.25,510.67 773.12,510.35 772.9,510.05 772.59,509.77 772.2,509.53 771.75,509.32 771.23,509.16 770.65,509.06 770.03,509.01 769.37,509.01 768.69,509.09 768,509.22 767.31,509.42 766.63,509.69 765.97,510.02 765.35,510.41 764.77,510.85 764.25,511.35 763.8,511.89 763.41,512.47 763.1,513.09 762.88,513.73 762.75,514.38 762.7,515.05 Q762.7,521.6 769.25,521.6 L800.5,521.6" fill="none" stroke="#333" stroke-width="1.1" stroke-linejoin="round"/>
<line x1="756.9" y1="468.3" x2="756.9" y2="522.1" stroke="#333" stroke-width="1.1"/>
<line x1="758.9" y1="468.3" x2="758.9" y2="522.1" stroke="#333" stroke-width="1.1"/>
<line x1="800.5" y1="521.6" x2="800.5" y2="575.5" stroke="#333" stroke-width="1.1"/>
<circle cx="800.5" cy="575.5" r="2.1" fill="#111"/>
<line x1="556" y1="574.3" x2="843" y2="575.5" stroke="#333" stroke-width="1.1"/>
<rect x="833" y="562" width="26" height="28" fill="#fff"/>
<circle cx="845.8" cy="576.3" r="14.3" fill="none" stroke="#222" stroke-width="2.0" stroke-dasharray="6,3.6"/>
<line x1="800.5" y1="575.5" x2="843.5" y2="575.7" stroke="#333" stroke-width="1.1"/>
<line x1="848.8" y1="575.8" x2="894.3" y2="576" stroke="#333" stroke-width="1.1"/>
<line x1="843.6" y1="570.2" x2="843.6" y2="581.4" stroke="#222" stroke-width="2.1"/>
<line x1="848.8" y1="570.2" x2="848.8" y2="581.4" stroke="#222" stroke-width="2.1"/>
<circle cx="894.3" cy="576" r="2.1" fill="#111"/>
<line x1="887.4" y1="603" x2="900.6" y2="603" stroke="#222" stroke-width="1.3"/>
<line x1="889.7" y1="603.5" x2="888.1" y2="609.5" stroke="#333" stroke-width="0.9"/>
<line x1="893.1" y1="603.5" x2="891.5" y2="609.5" stroke="#333" stroke-width="0.9"/>
<line x1="896.5" y1="603.5" x2="894.9" y2="609.5" stroke="#333" stroke-width="0.9"/>
<line x1="899.9" y1="603.5" x2="898.3" y2="609.5" stroke="#333" stroke-width="0.9"/>
<line x1="360.8" y1="397.4" x2="394" y2="397.4" stroke="#333" stroke-width="1.1"/>
<line x1="360.8" y1="443.2" x2="394" y2="443.2" stroke="#333" stroke-width="1.1"/>
<polyline points="360.8,408.5 370.4,420 360.8,430.3" fill="none" stroke="#222" stroke-width="2.0" stroke-linejoin="round"/>
<polyline points="393.9,408.5 403,420 393.9,430.3" fill="none" stroke="#222" stroke-width="2.0" stroke-linejoin="round"/>
<line x1="360.8" y1="397.4" x2="360.8" y2="409.5" stroke="#333" stroke-width="1.1"/>
<line x1="360.8" y1="429.3" x2="360.8" y2="443.2" stroke="#333" stroke-width="1.1"/>
<line x1="393.9" y1="397.4" x2="393.9" y2="409.5" stroke="#333" stroke-width="1.1"/>
<line x1="393.9" y1="429.3" x2="393.9" y2="443.2" stroke="#333" stroke-width="1.1"/>
<circle cx="393.9" cy="397.4" r="2.1" fill="#111"/>
<circle cx="393.9" cy="443.2" r="2.1" fill="#111"/>
<line x1="393.9" y1="397.4" x2="393.9" y2="376.8" stroke="#333" stroke-width="1.1"/>
<line x1="393.9" y1="376.8" x2="414" y2="376.8" stroke="#333" stroke-width="1.1"/>
<polygon points="421.5,376.8 413,373.8 413,379.8" fill="#111"/>
<path d="M393.9,397.4 L469.56,397.4 Q475.8,397.4 475.8,403.63 L475.76,404.32 475.65,404.99 475.46,405.65 475.2,406.28 474.87,406.88 474.48,407.44 474.04,407.95 473.55,408.41 473.02,408.81 472.46,409.15 471.89,409.42 471.3,409.63 470.71,409.77 470.14,409.84 469.58,409.85 469.05,409.8 468.56,409.69 468.12,409.52 467.73,409.31 467.4,409.06 467.14,408.78 466.95,408.47 466.84,408.14 466.8,407.8 466.84,407.46 466.95,407.13 467.14,406.82 467.4,406.54 467.73,406.29 468.12,406.08 468.56,405.91 469.05,405.8 469.58,405.75 470.14,405.76 470.71,405.83 471.3,405.97 471.89,406.18 472.46,406.45 473.02,406.79 473.55,407.19 474.04,407.65 474.48,408.16 474.87,408.72 475.2,409.32 475.46,409.95 475.65,410.61 475.76,411.28 475.8,411.96 475.76,412.65 475.65,413.32 475.46,413.98 475.2,414.61 474.87,415.21 474.48,415.77 474.04,416.28 473.55,416.74 473.02,417.14 472.46,417.48 471.89,417.75 471.3,417.96 470.71,418.1 470.14,418.17 469.58,418.18 469.05,418.13 468.56,418.02 468.12,417.85 467.73,417.64 467.4,417.39 467.14,417.11 466.95,416.8 466.84,416.47 466.8,416.13 466.84,415.79 466.95,415.46 467.14,415.15 467.4,414.87 467.73,414.62 468.12,414.41 468.56,414.24 469.05,414.13 469.58,414.08 470.14,414.09 470.71,414.16 471.3,414.3 471.89,414.51 472.46,414.78 473.02,415.12 473.55,415.52 474.04,415.98 474.48,416.49 474.87,417.05 475.2,417.65 475.46,418.28 475.65,418.94 475.76,419.61 475.8,420.3 475.76,420.98 475.65,421.65 475.46,422.31 475.2,422.94 474.87,423.54 474.48,424.1 474.04,424.61 473.55,425.07 473.02,425.47 472.46,425.81 471.89,426.08 471.3,426.29 470.71,426.43 470.14,426.5 469.58,426.51 469.05,426.46 468.56,426.35 468.12,426.18 467.73,425.97 467.4,425.72 467.14,425.44 466.95,425.13 466.84,424.8 466.8,424.46 466.84,424.12 466.95,423.79 467.14,423.48 467.4,423.2 467.73,422.95 468.12,422.74 468.56,422.57 469.05,422.46 469.58,422.41 470.14,422.42 470.71,422.49 471.3,422.63 471.89,422.84 472.46,423.11 473.02,423.45 473.55,423.85 474.04,424.31 474.48,424.82 474.87,425.38 475.2,425.98 475.46,426.61 475.65,427.27 475.76,427.94 475.8,428.62 475.76,429.31 475.65,429.98 475.46,430.64 475.2,431.27 474.87,431.87 474.48,432.43 474.04,432.94 473.55,433.4 473.02,433.8 472.46,434.14 471.89,434.41 471.3,434.62 470.71,434.76 470.14,434.83 469.58,434.84 469.05,434.79 468.56,434.68 468.12,434.51 467.73,434.3 467.4,434.05 467.14,433.77 466.95,433.46 466.84,433.13 466.8,432.79 466.84,432.45 466.95,432.12 467.14,431.81 467.4,431.53 467.73,431.28 468.12,431.07 468.56,430.9 469.05,430.79 469.58,430.74 470.14,430.75 470.71,430.82 471.3,430.96 471.89,431.17 472.46,431.44 473.02,431.78 473.55,432.18 474.04,432.64 474.48,433.15 474.87,433.71 475.2,434.31 475.46,434.94 475.65,435.6 475.76,436.27 475.8,436.95 Q475.8,443.2 469.56,443.2 L393.9,443.2" fill="none" stroke="#333" stroke-width="1.1" stroke-linejoin="round"/>
<line x1="480.8" y1="396" x2="476.7" y2="674.2" stroke="#333" stroke-width="1.1"/>
<line x1="483.5" y1="396" x2="479.9" y2="674.2" stroke="#333" stroke-width="1.1"/>
<path d="M587.5,423.6 L491.75,423.6 Q486.2,423.6 486.2,429.15 L486.24,429.82 486.36,430.47 486.57,431.11 486.84,431.73 487.19,432.31 487.61,432.85 488.08,433.35 488.6,433.79 489.16,434.18 489.76,434.51 490.37,434.78 491,434.98 491.63,435.11 492.24,435.19 492.84,435.19 493.4,435.14 493.92,435.04 494.39,434.88 494.81,434.67 495.16,434.43 495.43,434.15 495.64,433.85 495.76,433.53 495.8,433.2 495.76,432.87 495.64,432.55 495.43,432.25 495.16,431.97 494.81,431.73 494.39,431.52 493.92,431.36 493.4,431.26 492.84,431.21 492.24,431.21 491.63,431.29 491,431.42 490.37,431.62 489.76,431.89 489.16,432.22 488.6,432.61 488.08,433.05 487.61,433.55 487.19,434.09 486.84,434.67 486.57,435.29 486.36,435.93 486.24,436.58 486.2,437.25 486.24,437.92 486.36,438.57 486.57,439.21 486.84,439.83 487.19,440.41 487.61,440.95 488.08,441.45 488.6,441.89 489.16,442.28 489.76,442.61 490.37,442.88 491,443.08 491.63,443.21 492.24,443.29 492.84,443.29 493.4,443.24 493.92,443.14 494.39,442.98 494.81,442.77 495.16,442.53 495.43,442.25 495.64,441.95 495.76,441.63 495.8,441.3 495.76,440.97 495.64,440.65 495.43,440.35 495.16,440.07 494.81,439.83 494.39,439.62 493.92,439.46 493.4,439.36 492.84,439.31 492.24,439.31 491.63,439.39 491,439.52 490.37,439.72 489.76,439.99 489.16,440.32 488.6,440.71 488.08,441.15 487.61,441.65 487.19,442.19 486.84,442.77 486.57,443.39 486.36,444.03 486.24,444.68 486.2,445.35 486.24,446.02 486.36,446.67 486.57,447.31 486.84,447.93 487.19,448.51 487.61,449.05 488.08,449.55 488.6,449.99 489.16,450.38 489.76,450.71 490.37,450.98 491,451.18 491.63,451.31 492.24,451.39 492.84,451.39 493.4,451.34 493.92,451.24 494.39,451.08 494.81,450.87 495.16,450.63 495.43,450.35 495.64,450.05 495.76,449.73 495.8,449.4 495.76,449.07 495.64,448.75 495.43,448.45 495.16,448.17 494.81,447.93 494.39,447.72 493.92,447.56 493.4,447.46 492.84,447.41 492.24,447.41 491.63,447.49 491,447.62 490.37,447.82 489.76,448.09 489.16,448.42 488.6,448.81 488.08,449.25 487.61,449.75 487.19,450.29 486.84,450.87 486.57,451.49 486.36,452.13 486.24,452.78 486.2,453.45 486.24,454.12 486.36,454.77 486.57,455.41 486.84,456.03 487.19,456.61 487.61,457.15 488.08,457.65 488.6,458.09 489.16,458.48 489.76,458.81 490.37,459.08 491,459.28 491.63,459.41 492.24,459.49 492.84,459.49 493.4,459.44 493.92,459.34 494.39,459.18 494.81,458.97 495.16,458.73 495.43,458.45 495.64,458.15 495.76,457.83 495.8,457.5 495.76,457.17 495.64,456.85 495.43,456.55 495.16,456.27 494.81,456.03 494.39,455.82 493.92,455.66 493.4,455.56 492.84,455.51 492.24,455.51 491.63,455.59 491,455.72 490.37,455.92 489.76,456.19 489.16,456.52 488.6,456.91 488.08,457.35 487.61,457.85 487.19,458.39 486.84,458.97 486.57,459.59 486.36,460.23 486.24,460.88 486.2,461.55 486.24,462.22 486.36,462.87 486.57,463.51 486.84,464.13 487.19,464.71 487.61,465.25 488.08,465.75 488.6,466.19 489.16,466.58 489.76,466.91 490.37,467.18 491,467.38 491.63,467.51 492.24,467.59 492.84,467.59 493.4,467.54 493.92,467.44 494.39,467.28 494.81,467.07 495.16,466.83 495.43,466.55 495.64,466.25 495.76,465.93 495.8,465.6 495.76,465.27 495.64,464.95 495.43,464.65 495.16,464.37 494.81,464.13 494.39,463.92 493.92,463.76 493.4,463.66 492.84,463.61 492.24,463.61 491.63,463.69 491,463.82 490.37,464.02 489.76,464.29 489.16,464.62 488.6,465.01 488.08,465.45 487.61,465.95 487.19,466.49 486.84,467.07 486.57,467.69 486.36,468.33 486.24,468.98 486.2,469.65 486.24,470.32 486.36,470.97 486.57,471.61 486.84,472.23 487.19,472.81 487.61,473.35 488.08,473.85 488.6,474.29 489.16,474.68 489.76,475.01 490.37,475.28 491,475.48 491.63,475.61 492.24,475.69 492.84,475.69 493.4,475.64 493.92,475.54 494.39,475.38 494.81,475.17 495.16,474.93 495.43,474.65 495.64,474.35 495.76,474.03 495.8,473.7 495.76,473.37 495.64,473.05 495.43,472.75 495.16,472.47 494.81,472.23 494.39,472.02 493.92,471.86 493.4,471.76 492.84,471.71 492.24,471.71 491.63,471.79 491,471.92 490.37,472.12 489.76,472.39 489.16,472.72 488.6,473.11 488.08,473.55 487.61,474.05 487.19,474.59 486.84,475.17 486.57,475.79 486.36,476.43 486.24,477.08 486.2,477.75 486.24,478.42 486.36,479.07 486.57,479.71 486.84,480.33 487.19,480.91 487.61,481.45 488.08,481.95 488.6,482.39 489.16,482.78 489.76,483.11 490.37,483.38 491,483.58 491.63,483.71 492.24,483.79 492.84,483.79 493.4,483.74 493.92,483.64 494.39,483.48 494.81,483.27 495.16,483.03 495.43,482.75 495.64,482.45 495.76,482.13 495.8,481.8 495.76,481.47 495.64,481.15 495.43,480.85 495.16,480.57 494.81,480.33 494.39,480.12 493.92,479.96 493.4,479.86 492.84,479.81 492.24,479.81 491.63,479.89 491,480.02 490.37,480.22 489.76,480.49 489.16,480.82 488.6,481.21 488.08,481.65 487.61,482.15 487.19,482.69 486.84,483.27 486.57,483.89 486.36,484.53 486.24,485.18 486.2,485.85 486.24,486.52 486.36,487.17 486.57,487.81 486.84,488.43 487.19,489.01 487.61,489.55 488.08,490.05 488.6,490.49 489.16,490.88 489.76,491.21 490.37,491.48 491,491.68 491.63,491.81 492.24,491.89 492.84,491.89 493.4,491.84 493.92,491.74 494.39,491.58 494.81,491.37 495.16,491.13 495.43,490.85 495.64,490.55 495.76,490.23 495.8,489.9 495.76,489.57 495.64,489.25 495.43,488.95 495.16,488.67 494.81,488.43 494.39,488.22 493.92,488.06 493.4,487.96 492.84,487.91 492.24,487.91 491.63,487.99 491,488.12 490.37,488.32 489.76,488.59 489.16,488.92 488.6,489.31 488.08,489.75 487.61,490.25 487.19,490.79 486.84,491.37 486.57,491.99 486.36,492.63 486.24,493.28 486.2,493.95 486.24,494.62 486.36,495.27 486.57,495.91 486.84,496.53 487.19,497.11 487.61,497.65 488.08,498.15 488.6,498.59 489.16,498.98 489.76,499.31 490.37,499.58 491,499.78 491.63,499.91 492.24,499.99 492.84,499.99 493.4,499.94 493.92,499.84 494.39,499.68 494.81,499.47 495.16,499.23 495.43,498.95 495.64,498.65 495.76,498.33 495.8,498 495.76,497.67 495.64,497.35 495.43,497.05 495.16,496.77 494.81,496.53 494.39,496.32 493.92,496.16 493.4,496.06 492.84,496.01 492.24,496.01 491.63,496.09 491,496.22 490.37,496.42 489.76,496.69 489.16,497.02 488.6,497.41 488.08,497.85 487.61,498.35 487.19,498.89 486.84,499.47 486.57,500.09 486.36,500.73 486.24,501.38 486.2,502.05 Q486.2,507.9 492.05,507.9 L587,507.9" fill="none" stroke="#333" stroke-width="1.1" stroke-linejoin="round"/>
<circle cx="561.3" cy="423.8" r="2.1" fill="#111"/>
<circle cx="561.3" cy="508.8" r="2.1" fill="#111"/>
<circle cx="496.2" cy="465.8" r="2.1" fill="#111"/>
<line x1="496.2" y1="465.8" x2="513.8" y2="465.8" stroke="#333" stroke-width="1.1"/>
<line x1="513.8" y1="465.8" x2="513.8" y2="477.5" stroke="#333" stroke-width="1.1"/>
<line x1="507.2" y1="477.5" x2="520.4" y2="477.5" stroke="#222" stroke-width="1.3"/>
<line x1="509.5" y1="478" x2="507.9" y2="484" stroke="#333" stroke-width="0.9"/>
<line x1="512.9" y1="478" x2="511.3" y2="484" stroke="#333" stroke-width="0.9"/>
<line x1="516.3" y1="478" x2="514.7" y2="484" stroke="#333" stroke-width="0.9"/>
<line x1="519.7" y1="478" x2="518.1" y2="484" stroke="#333" stroke-width="0.9"/>
<rect x="575" y="412" width="40" height="24" fill="#fff"/>
<circle cx="595" cy="423.8" r="21.4" fill="none" stroke="#1a1a1a" stroke-width="2.1"/>
<line x1="561.3" y1="423.8" x2="587.5" y2="423.8" stroke="#333" stroke-width="1.1"/>
<line x1="587.5" y1="418.5" x2="587.5" y2="429.2" stroke="#222" stroke-width="1.8"/>
<line x1="595.5" y1="412.5" x2="595.5" y2="417.5" stroke="#222" stroke-width="1.6"/>
<line x1="595.5" y1="420.5" x2="595.5" y2="425.5" stroke="#222" stroke-width="1.6"/>
<line x1="595.5" y1="428.5" x2="595.5" y2="433.5" stroke="#222" stroke-width="1.6"/>
<polyline points="616.3,412 606.3,423.8 616.3,432.5" fill="none" stroke="#222" stroke-width="1.8" stroke-linejoin="round"/>
<line x1="595.5" y1="435" x2="595.5" y2="454.5" stroke="#333" stroke-width="1.1"/>
<line x1="595.5" y1="454.5" x2="561.3" y2="454.5" stroke="#333" stroke-width="1.1"/>
<line x1="561.3" y1="454.5" x2="561.3" y2="423.8" stroke="#333" stroke-width="1.1"/>
<line x1="616.3" y1="404.5" x2="690.8" y2="404.5" stroke="#333" stroke-width="1.1"/>
<line x1="690.8" y1="404.5" x2="690.8" y2="491.3" stroke="#333" stroke-width="1.1"/>
<line x1="616.3" y1="442" x2="642.3" y2="442" stroke="#333" stroke-width="1.1"/>
<line x1="642.3" y1="442" x2="642.3" y2="527.5" stroke="#333" stroke-width="1.1"/>
<line x1="616.3" y1="404.5" x2="616.3" y2="412" stroke="#333" stroke-width="1.1"/>
<line x1="616.3" y1="432.5" x2="616.3" y2="442" stroke="#333" stroke-width="1.1"/>
<rect x="575" y="497" width="40" height="24" fill="#fff"/>
<circle cx="594.7" cy="508.8" r="21.8" fill="none" stroke="#1a1a1a" stroke-width="2.1"/>
<line x1="561.3" y1="508.8" x2="587" y2="508.8" stroke="#333" stroke-width="1.1"/>
<line x1="587" y1="503.5" x2="587" y2="514" stroke="#222" stroke-width="1.8"/>
<line x1="595.3" y1="497" x2="595.3" y2="502" stroke="#222" stroke-width="1.6"/>
<line x1="595.3" y1="505" x2="595.3" y2="510" stroke="#222" stroke-width="1.6"/>
<line x1="595.3" y1="513" x2="595.3" y2="518" stroke="#222" stroke-width="1.6"/>
<polyline points="615.5,497 605.5,508.5 615.5,519.5" fill="none" stroke="#222" stroke-width="1.8" stroke-linejoin="round"/>
<line x1="595.3" y1="497" x2="595.3" y2="477" stroke="#333" stroke-width="1.1"/>
<line x1="595.3" y1="477" x2="561.3" y2="477" stroke="#333" stroke-width="1.1"/>
<line x1="561.3" y1="477" x2="561.3" y2="508.8" stroke="#333" stroke-width="1.1"/>
<line x1="614.5" y1="491.3" x2="690.8" y2="491.3" stroke="#333" stroke-width="1.1"/>
<circle cx="690.8" cy="491.3" r="2.1" fill="#111"/>
<line x1="614.5" y1="527.5" x2="642.3" y2="527.5" stroke="#333" stroke-width="1.1"/>
<circle cx="642.3" cy="527.5" r="2.1" fill="#111"/>
<line x1="614.5" y1="491.3" x2="614.5" y2="497" stroke="#333" stroke-width="1.1"/>
<line x1="614.5" y1="519.5" x2="614.5" y2="527.5" stroke="#333" stroke-width="1.1"/>
<line x1="642.3" y1="527.5" x2="642.3" y2="548.9" stroke="#333" stroke-width="1.1"/>
<line x1="690.2" y1="491.3" x2="689.7" y2="600.2" stroke="#333" stroke-width="1.1"/>
<path d="M642.3,548.9 L488.25,548.9 Q484.4,548.9 484.4,552.75 L484.45,553.43 484.58,554.1 484.81,554.76 485.12,555.39 485.52,555.99 485.98,556.54 486.51,557.05 487.1,557.51 487.73,557.91 488.4,558.24 489.1,558.52 489.8,558.72 490.5,558.86 491.2,558.93 491.87,558.94 492.5,558.89 493.09,558.78 493.62,558.62 494.08,558.41 494.48,558.16 494.79,557.87 495.02,557.56 495.15,557.24 495.2,556.9 495.15,556.56 495.02,556.24 494.79,555.93 494.48,555.64 494.08,555.39 493.62,555.18 493.09,555.02 492.5,554.91 491.87,554.86 491.2,554.87 490.5,554.94 489.8,555.08 489.1,555.28 488.4,555.56 487.73,555.89 487.1,556.29 486.51,556.75 485.98,557.26 485.52,557.81 485.12,558.41 484.81,559.04 484.58,559.7 484.45,560.37 484.4,561.05 484.45,561.73 484.58,562.4 484.81,563.06 485.12,563.69 485.52,564.29 485.98,564.84 486.51,565.35 487.1,565.81 487.73,566.21 488.4,566.54 489.1,566.82 489.8,567.02 490.5,567.16 491.2,567.23 491.87,567.24 492.5,567.19 493.09,567.08 493.62,566.92 494.08,566.71 494.48,566.46 494.79,566.17 495.02,565.86 495.15,565.54 495.2,565.2 495.15,564.86 495.02,564.54 494.79,564.23 494.48,563.94 494.08,563.69 493.62,563.48 493.09,563.32 492.5,563.21 491.87,563.16 491.2,563.17 490.5,563.24 489.8,563.38 489.1,563.58 488.4,563.86 487.73,564.19 487.1,564.59 486.51,565.05 485.98,565.56 485.52,566.11 485.12,566.71 484.81,567.34 484.58,568 484.45,568.67 484.4,569.35 484.45,570.03 484.58,570.7 484.81,571.36 485.12,571.99 485.52,572.59 485.98,573.14 486.51,573.65 487.1,574.11 487.73,574.51 488.4,574.84 489.1,575.12 489.8,575.32 490.5,575.46 491.2,575.53 491.87,575.54 492.5,575.49 493.09,575.38 493.62,575.22 494.08,575.01 494.48,574.76 494.79,574.47 495.02,574.16 495.15,573.84 495.2,573.5 495.15,573.16 495.02,572.84 494.79,572.53 494.48,572.24 494.08,571.99 493.62,571.78 493.09,571.62 492.5,571.51 491.87,571.46 491.2,571.47 490.5,571.54 489.8,571.68 489.1,571.88 488.4,572.16 487.73,572.49 487.1,572.89 486.51,573.35 485.98,573.86 485.52,574.41 485.12,575.01 484.81,575.64 484.58,576.3 484.45,576.97 484.4,577.65 484.45,578.33 484.58,579 484.81,579.66 485.12,580.29 485.52,580.89 485.98,581.44 486.51,581.95 487.1,582.41 487.73,582.81 488.4,583.14 489.1,583.42 489.8,583.62 490.5,583.76 491.2,583.83 491.87,583.84 492.5,583.79 493.09,583.68 493.62,583.52 494.08,583.31 494.48,583.06 494.79,582.77 495.02,582.46 495.15,582.14 495.2,581.8 495.15,581.46 495.02,581.14 494.79,580.83 494.48,580.54 494.08,580.29 493.62,580.08 493.09,579.92 492.5,579.81 491.87,579.76 491.2,579.77 490.5,579.84 489.8,579.98 489.1,580.18 488.4,580.46 487.73,580.79 487.1,581.19 486.51,581.65 485.98,582.16 485.52,582.71 485.12,583.31 484.81,583.94 484.58,584.6 484.45,585.27 484.4,585.95 484.45,586.63 484.58,587.3 484.81,587.96 485.12,588.59 485.52,589.19 485.98,589.74 486.51,590.25 487.1,590.71 487.73,591.11 488.4,591.44 489.1,591.72 489.8,591.92 490.5,592.06 491.2,592.13 491.87,592.14 492.5,592.09 493.09,591.98 493.62,591.82 494.08,591.61 494.48,591.36 494.79,591.07 495.02,590.76 495.15,590.44 495.2,590.1 495.15,589.76 495.02,589.44 494.79,589.13 494.48,588.84 494.08,588.59 493.62,588.38 493.09,588.22 492.5,588.11 491.87,588.06 491.2,588.07 490.5,588.14 489.8,588.28 489.1,588.48 488.4,588.76 487.73,589.09 487.1,589.49 486.51,589.95 485.98,590.46 485.52,591.01 485.12,591.61 484.81,592.24 484.58,592.9 484.45,593.57 484.4,594.25 Q484.4,600.2 490.35,600.2 L689.7,600.2" fill="none" stroke="#333" stroke-width="1.1" stroke-linejoin="round"/>
<circle cx="494.4" cy="573.3" r="2.1" fill="#111"/>
<line x1="494.4" y1="573.3" x2="556" y2="574.3" stroke="#333" stroke-width="1.1"/>
<path d="M426.3,471.5 L468.14,471.5 Q474,471.5 474,477.36 L473.96,478.02 473.85,478.68 473.66,479.32 473.4,479.93 473.07,480.51 472.68,481.05 472.24,481.55 471.75,481.99 471.22,482.38 470.66,482.71 470.09,482.97 469.5,483.17 468.91,483.31 468.34,483.38 467.78,483.39 467.25,483.34 466.76,483.23 466.32,483.07 465.93,482.87 465.6,482.62 465.34,482.35 465.15,482.05 465.04,481.73 465,481.4 465.04,481.07 465.15,480.75 465.34,480.45 465.6,480.18 465.93,479.93 466.32,479.73 466.76,479.57 467.25,479.46 467.78,479.41 468.34,479.42 468.91,479.49 469.5,479.63 470.09,479.83 470.66,480.09 471.22,480.42 471.75,480.81 472.24,481.25 472.68,481.75 473.07,482.29 473.4,482.87 473.66,483.48 473.85,484.12 473.96,484.78 474,485.44 473.96,486.1 473.85,486.76 473.66,487.4 473.4,488.01 473.07,488.59 472.68,489.13 472.24,489.63 471.75,490.07 471.22,490.46 470.66,490.79 470.09,491.05 469.5,491.25 468.91,491.39 468.34,491.46 467.78,491.47 467.25,491.42 466.76,491.31 466.32,491.15 465.93,490.95 465.6,490.7 465.34,490.43 465.15,490.13 465.04,489.81 465,489.48 465.04,489.15 465.15,488.83 465.34,488.53 465.6,488.26 465.93,488.01 466.32,487.81 466.76,487.65 467.25,487.54 467.78,487.49 468.34,487.5 468.91,487.57 469.5,487.71 470.09,487.91 470.66,488.17 471.22,488.5 471.75,488.89 472.24,489.33 472.68,489.83 473.07,490.37 473.4,490.95 473.66,491.56 473.85,492.2 473.96,492.86 474,493.52 473.96,494.18 473.85,494.84 473.66,495.48 473.4,496.09 473.07,496.67 472.68,497.21 472.24,497.71 471.75,498.15 471.22,498.54 470.66,498.87 470.09,499.13 469.5,499.33 468.91,499.47 468.34,499.54 467.78,499.55 467.25,499.5 466.76,499.39 466.32,499.23 465.93,499.03 465.6,498.78 465.34,498.51 465.15,498.21 465.04,497.89 465,497.56 465.04,497.23 465.15,496.91 465.34,496.61 465.6,496.34 465.93,496.09 466.32,495.89 466.76,495.73 467.25,495.62 467.78,495.57 468.34,495.58 468.91,495.65 469.5,495.79 470.09,495.99 470.66,496.25 471.22,496.58 471.75,496.97 472.24,497.41 472.68,497.91 473.07,498.45 473.4,499.03 473.66,499.64 473.85,500.28 473.96,500.94 474,501.6 473.96,502.26 473.85,502.92 473.66,503.56 473.4,504.17 473.07,504.75 472.68,505.29 472.24,505.79 471.75,506.23 471.22,506.62 470.66,506.95 470.09,507.21 469.5,507.41 468.91,507.55 468.34,507.62 467.78,507.63 467.25,507.58 466.76,507.47 466.32,507.31 465.93,507.11 465.6,506.86 465.34,506.59 465.15,506.29 465.04,505.97 465,505.64 465.04,505.31 465.15,504.99 465.34,504.69 465.6,504.42 465.93,504.17 466.32,503.97 466.76,503.81 467.25,503.7 467.78,503.65 468.34,503.66 468.91,503.73 469.5,503.87 470.09,504.07 470.66,504.33 471.22,504.66 471.75,505.05 472.24,505.49 472.68,505.99 473.07,506.53 473.4,507.11 473.66,507.72 473.85,508.36 473.96,509.02 474,509.68 473.96,510.34 473.85,511 473.66,511.64 473.4,512.25 473.07,512.83 472.68,513.37 472.24,513.87 471.75,514.31 471.22,514.7 470.66,515.03 470.09,515.29 469.5,515.49 468.91,515.63 468.34,515.7 467.78,515.71 467.25,515.66 466.76,515.55 466.32,515.39 465.93,515.19 465.6,514.94 465.34,514.67 465.15,514.37 465.04,514.05 465,513.72 465.04,513.39 465.15,513.07 465.34,512.77 465.6,512.5 465.93,512.25 466.32,512.05 466.76,511.89 467.25,511.78 467.78,511.73 468.34,511.74 468.91,511.81 469.5,511.95 470.09,512.15 470.66,512.41 471.22,512.74 471.75,513.13 472.24,513.57 472.68,514.07 473.07,514.61 473.4,515.19 473.66,515.8 473.85,516.44 473.96,517.1 474,517.76 473.96,518.42 473.85,519.08 473.66,519.72 473.4,520.33 473.07,520.91 472.68,521.45 472.24,521.95 471.75,522.39 471.22,522.78 470.66,523.11 470.09,523.37 469.5,523.57 468.91,523.71 468.34,523.78 467.78,523.79 467.25,523.74 466.76,523.63 466.32,523.47 465.93,523.27 465.6,523.02 465.34,522.75 465.15,522.45 465.04,522.13 465,521.8 465.04,521.47 465.15,521.15 465.34,520.85 465.6,520.58 465.93,520.33 466.32,520.13 466.76,519.97 467.25,519.86 467.78,519.81 468.34,519.82 468.91,519.89 469.5,520.03 470.09,520.23 470.66,520.49 471.22,520.82 471.75,521.21 472.24,521.65 472.68,522.15 473.07,522.69 473.4,523.27 473.66,523.88 473.85,524.52 473.96,525.18 474,525.84 473.96,526.5 473.85,527.16 473.66,527.8 473.4,528.41 473.07,528.99 472.68,529.53 472.24,530.03 471.75,530.47 471.22,530.86 470.66,531.19 470.09,531.45 469.5,531.65 468.91,531.79 468.34,531.86 467.78,531.87 467.25,531.82 466.76,531.71 466.32,531.55 465.93,531.35 465.6,531.1 465.34,530.83 465.15,530.53 465.04,530.21 465,529.88 465.04,529.55 465.15,529.23 465.34,528.93 465.6,528.66 465.93,528.41 466.32,528.21 466.76,528.05 467.25,527.94 467.78,527.89 468.34,527.9 468.91,527.97 469.5,528.11 470.09,528.31 470.66,528.57 471.22,528.9 471.75,529.29 472.24,529.73 472.68,530.23 473.07,530.77 473.4,531.35 473.66,531.96 473.85,532.6 473.96,533.26 474,533.92 Q474,539.6 468.32,539.6 L425,539.6" fill="none" stroke="#333" stroke-width="1.1" stroke-linejoin="round"/>
<circle cx="463.6" cy="505.6" r="2.1" fill="#111"/>
<line x1="463.6" y1="505.6" x2="450.4" y2="505.6" stroke="#333" stroke-width="1.1"/>
<line x1="450.4" y1="505.6" x2="450.4" y2="583.8" stroke="#333" stroke-width="1.1"/>
<polygon points="416.3,471.3 426.5,465.3 426.5,477.4" fill="#111"/>
<line x1="416.3" y1="465.3" x2="416.3" y2="477.6" stroke="#111" stroke-width="2.6"/>
<polygon points="414.5,540 425,534 425,546" fill="#111"/>
<line x1="414.5" y1="533.8" x2="414.5" y2="546.2" stroke="#111" stroke-width="2.6"/>
<line x1="416.3" y1="471.3" x2="404" y2="471.3" stroke="#333" stroke-width="1.1"/>
<line x1="404" y1="471.3" x2="404" y2="540" stroke="#333" stroke-width="1.1"/>
<line x1="404" y1="540" x2="414.5" y2="540" stroke="#333" stroke-width="1.1"/>
<circle cx="403.5" cy="504.5" r="2.1" fill="#111"/>
<polyline points="393,458.6 438,458.6 438,552.5 393,552.5 393,458.6" fill="none" stroke="#333" stroke-width="1.3" stroke-linejoin="round" stroke-dasharray="5,3.5"/>
<line x1="369.5" y1="464.5" x2="404" y2="466.7" stroke="#333" stroke-width="0.9"/>
<polygon points="411.2,467.3 403,464.5 402.5,469.5" fill="#111"/>
<line x1="160" y1="504.6" x2="228" y2="504.5" stroke="#333" stroke-width="1.1"/>
<polygon points="156.6,504.6 169.3,501.3 169.3,507.9" fill="#111"/>
<line x1="271.3" y1="504.5" x2="403.5" y2="504.5" stroke="#333" stroke-width="1.1"/>
<circle cx="206.3" cy="504.5" r="2.1" fill="#111"/>
<line x1="206.3" y1="466.3" x2="206.3" y2="540.7" stroke="#333" stroke-width="1.1"/>
<line x1="199.9" y1="540.7" x2="212.3" y2="540.7" stroke="#222" stroke-width="2.3"/>
<line x1="199.9" y1="546.9" x2="212.3" y2="546.9" stroke="#222" stroke-width="2.3"/>
<line x1="202.4" y1="540.7" x2="201" y2="546.9" stroke="#333" stroke-width="0.9"/>
<line x1="205.33" y1="540.7" x2="203.93" y2="546.9" stroke="#333" stroke-width="0.9"/>
<line x1="208.27" y1="540.7" x2="206.87" y2="546.9" stroke="#333" stroke-width="0.9"/>
<line x1="211.2" y1="540.7" x2="209.8" y2="546.9" stroke="#333" stroke-width="0.9"/>
<line x1="206.1" y1="546.9" x2="206" y2="582.5" stroke="#333" stroke-width="1.1"/>
<line x1="206.3" y1="466.3" x2="244.5" y2="466.3" stroke="#333" stroke-width="1.1"/>
<line x1="253.8" y1="466.3" x2="295" y2="466.3" stroke="#333" stroke-width="1.1"/>
<line x1="295" y1="466.3" x2="295" y2="504.5" stroke="#333" stroke-width="1.1"/>
<polygon points="244.5,459.5 244.5,473.2 253.8,466.3" fill="#111"/>
<line x1="253.8" y1="459.5" x2="253.8" y2="473.2" stroke="#111" stroke-width="2.6"/>
<polygon points="228,486.3 271.3,486.3 271.3,523.8 228,523.8" fill="none" stroke="#222" stroke-width="1.6" stroke-linejoin="round"/>
<line x1="248.8" y1="523.8" x2="248.8" y2="553.8" stroke="#333" stroke-width="1.1"/>
<circle cx="248.8" cy="544.3" r="2.1" fill="#111"/>
<polyline points="248.8,553.8 252.3,555.47 245.3,558.8 252.3,562.13 245.3,565.47 252.3,568.8 245.3,572.13 248.8,573.8" fill="none" stroke="#333" stroke-width="1.25" stroke-linejoin="round"/>
<line x1="248.8" y1="573.8" x2="248.8" y2="582.5" stroke="#333" stroke-width="1.1"/>
<line x1="243" y1="577" x2="258" y2="553" stroke="#333" stroke-width="0.9"/>
<polygon points="260.5,550 254.5,553.5 258.5,557" fill="#111"/>
<line x1="248.8" y1="544.3" x2="318.8" y2="544.3" stroke="#333" stroke-width="1.1"/>
<circle cx="293.8" cy="544.3" r="2.1" fill="#111"/>
<circle cx="293.8" cy="504.5" r="2.1" fill="#111"/>
<line x1="293.8" y1="504.5" x2="293.8" y2="513.8" stroke="#333" stroke-width="1.1"/>
<polyline points="293.8,513.8 297.3,515.67 290.3,519.42 297.3,523.17 290.3,526.92 297.3,530.67 290.3,534.42 293.8,536.3" fill="none" stroke="#333" stroke-width="1.25" stroke-linejoin="round"/>
<line x1="293.8" y1="536.3" x2="293.8" y2="544.3" stroke="#333" stroke-width="1.1"/>
<circle cx="318.8" cy="504.5" r="2.1" fill="#111"/>
<line x1="318.8" y1="504.5" x2="318.8" y2="519" stroke="#333" stroke-width="1.1"/>
<line x1="312.5" y1="518.8" x2="325" y2="518.8" stroke="#111" stroke-width="2.6"/>
<polygon points="318.8,518.8 312,530 325.5,530" fill="#111"/>
<line x1="318.8" y1="530" x2="318.8" y2="544.3" stroke="#333" stroke-width="1.1"/>
<circle cx="358.8" cy="504.5" r="2.1" fill="#111"/>
<line x1="358.8" y1="504.5" x2="358.8" y2="542.5" stroke="#333" stroke-width="1.1"/>
<line x1="352.8" y1="542.5" x2="364.8" y2="542.5" stroke="#222" stroke-width="2.3"/>
<line x1="352.8" y1="547.5" x2="364.8" y2="547.5" stroke="#222" stroke-width="2.3"/>
<line x1="355.3" y1="542.5" x2="353.9" y2="547.5" stroke="#333" stroke-width="0.9"/>
<line x1="358.1" y1="542.5" x2="356.7" y2="547.5" stroke="#333" stroke-width="0.9"/>
<line x1="360.9" y1="542.5" x2="359.5" y2="547.5" stroke="#333" stroke-width="0.9"/>
<line x1="363.7" y1="542.5" x2="362.3" y2="547.5" stroke="#333" stroke-width="0.9"/>
<line x1="358.8" y1="547.5" x2="358.8" y2="582.5" stroke="#333" stroke-width="1.1"/>
<line x1="160" y1="582.6" x2="450.4" y2="583.8" stroke="#333" stroke-width="1.1"/>
<polygon points="155.4,582.6 167.8,579.3 167.8,585.9" fill="#111"/>
<circle cx="205.5" cy="582.5" r="2.1" fill="#111"/>
<circle cx="248.8" cy="582.8" r="2.1" fill="#111"/>
<circle cx="358.3" cy="583" r="2.1" fill="#111"/>
<line x1="30.2" y1="637.3" x2="40" y2="637.3" stroke="#333" stroke-width="1.1"/>
<line x1="30.2" y1="643.5" x2="40" y2="643.5" stroke="#333" stroke-width="1.1"/>
<path d="M39.8,630.8 L39.8,650.5 M39.8,630.8 Q49.6,631 49.6,640.7 Q49.6,650.5 39.8,650.5" fill="none" stroke="#1a1a1a" stroke-width="2.0"/>
<line x1="49.6" y1="637.3" x2="79.6" y2="637.3" stroke="#333" stroke-width="1.1"/>
<line x1="49.6" y1="643.5" x2="79.6" y2="643.5" stroke="#333" stroke-width="1.1"/>
<path d="M67,632.7 Q64,636 66.3,640.5 Q68.5,645 65.3,649 M70,632.7 Q67,636 69.3,640.5 Q71.5,645 68.3,649" fill="none" stroke="#333" stroke-width="1.0"/>
<line x1="79.6" y1="632.2" x2="79.6" y2="649" stroke="#333" stroke-width="1.1"/>
<line x1="79.6" y1="632.2" x2="104.9" y2="632.2" stroke="#333" stroke-width="1.1"/>
<line x1="79.6" y1="649" x2="104.9" y2="649" stroke="#333" stroke-width="1.1"/>
<circle cx="108.2" cy="640.4" r="17.2" fill="none" stroke="#1a1a1a" stroke-width="2.1"/>
<circle cx="108.2" cy="632.2" r="3.2" fill="#fff" stroke="#333" stroke-width="1.1"/>
<circle cx="108.2" cy="649" r="3.2" fill="#fff" stroke="#333" stroke-width="1.1"/>
<path d="M125,637.1 L119.6,637.1 A3.1,3.1 0 0 0 119.6,643.3 L125,643.3" fill="none" stroke="#333" stroke-width="1.1"/>
<circle cx="148" cy="640.4" r="17.2" fill="none" stroke="#1a1a1a" stroke-width="2.1"/>
<circle cx="148" cy="632.2" r="3.2" fill="#fff" stroke="#333" stroke-width="1.1"/>
<circle cx="148" cy="649" r="3.2" fill="#fff" stroke="#333" stroke-width="1.1"/>
<path d="M131,637.1 L135.6,637.1 A3.1,3.1 0 0 1 135.6,643.3 L131,643.3" fill="none" stroke="#333" stroke-width="1.1"/>
<line x1="151.2" y1="632.2" x2="185.7" y2="632.2" stroke="#333" stroke-width="1.1"/>
<line x1="185.7" y1="632.2" x2="185.7" y2="611.6" stroke="#333" stroke-width="1.1"/>
<line x1="185.7" y1="611.6" x2="214.4" y2="611.6" stroke="#333" stroke-width="1.1"/>
<line x1="151.2" y1="649" x2="185.7" y2="649" stroke="#333" stroke-width="1.1"/>
<line x1="185.7" y1="649" x2="185.7" y2="671.8" stroke="#333" stroke-width="1.1"/>
<line x1="185.7" y1="671.8" x2="214.4" y2="671.8" stroke="#333" stroke-width="1.1"/>
<circle cx="217.5" cy="611.8" r="3.1" fill="#fff" stroke="#333" stroke-width="1.1"/>
<circle cx="249.5" cy="611.8" r="3.1" fill="#fff" stroke="#333" stroke-width="1.1"/>
<polyline points="221,611.7 223.1,608.3 227.3,615.1 231.5,608.3 235.7,615.1 239.9,608.3 244.1,615.1 246.2,611.7" fill="none" stroke="#333" stroke-width="1.2" stroke-linejoin="round"/>
<line x1="252.6" y1="611.8" x2="440" y2="612.6" stroke="#333" stroke-width="1.1"/>
<circle cx="217.5" cy="671.8" r="3.1" fill="#fff" stroke="#333" stroke-width="1.1"/>
<circle cx="249.5" cy="671.8" r="3.1" fill="#fff" stroke="#333" stroke-width="1.1"/>
<line x1="214" y1="665.5" x2="250.5" y2="665.5" stroke="#1a1a1a" stroke-width="1.7"/>
<rect x="230" y="665.5" width="5.5" height="3.8" fill="#1a1a1a"/>
<line x1="220.6" y1="672.9" x2="249.6" y2="679.2" stroke="#222" stroke-width="1.8"/>
<line x1="252.6" y1="671.8" x2="440" y2="673.2" stroke="#333" stroke-width="1.1"/>
<circle cx="318.2" cy="611.8" r="2.1" fill="#111"/>
<circle cx="318.2" cy="672.6" r="2.1" fill="#111"/>
<line x1="318.5" y1="611.8" x2="318.8" y2="627.5" stroke="#333" stroke-width="1.1"/>
<line x1="318.8" y1="656.3" x2="318.5" y2="672.6" stroke="#333" stroke-width="1.1"/>
<circle cx="319.1" cy="641.9" r="14.4" fill="none" stroke="#1a1a1a" stroke-width="2.1"/>
<polyline points="301.9,652.5 317.9,639.6 317.3,645.6 336.2,631.5" fill="none" stroke="#333" stroke-width="1.1" stroke-linejoin="round"/>
<path d="M440,612.6 L467.25,612.6 Q473.3,612.6 473.3,618.65 L473.26,619.32 473.13,619.97 472.91,620.61 472.62,621.23 472.25,621.81 471.81,622.35 471.3,622.85 470.75,623.29 470.15,623.68 469.52,624.01 468.87,624.28 468.2,624.48 467.53,624.61 466.88,624.69 466.25,624.69 465.65,624.64 465.1,624.54 464.59,624.38 464.15,624.17 463.78,623.93 463.49,623.65 463.27,623.35 463.14,623.03 463.1,622.7 463.14,622.37 463.27,622.05 463.49,621.75 463.78,621.47 464.15,621.23 464.59,621.02 465.1,620.86 465.65,620.76 466.25,620.71 466.88,620.71 467.53,620.79 468.2,620.92 468.87,621.12 469.52,621.39 470.15,621.72 470.75,622.11 471.3,622.55 471.81,623.05 472.25,623.59 472.62,624.17 472.91,624.79 473.13,625.43 473.26,626.08 473.3,626.75 473.26,627.42 473.13,628.07 472.91,628.71 472.62,629.33 472.25,629.91 471.81,630.45 471.3,630.95 470.75,631.39 470.15,631.78 469.52,632.11 468.87,632.38 468.2,632.58 467.53,632.71 466.88,632.79 466.25,632.79 465.65,632.74 465.1,632.64 464.59,632.48 464.15,632.27 463.78,632.03 463.49,631.75 463.27,631.45 463.14,631.13 463.1,630.8 463.14,630.47 463.27,630.15 463.49,629.85 463.78,629.57 464.15,629.33 464.59,629.12 465.1,628.96 465.65,628.86 466.25,628.81 466.88,628.81 467.53,628.89 468.2,629.02 468.87,629.22 469.52,629.49 470.15,629.82 470.75,630.21 471.3,630.65 471.81,631.15 472.25,631.69 472.62,632.27 472.91,632.89 473.13,633.53 473.26,634.18 473.3,634.85 473.26,635.52 473.13,636.17 472.91,636.81 472.62,637.43 472.25,638.01 471.81,638.55 471.3,639.05 470.75,639.49 470.15,639.88 469.52,640.21 468.87,640.48 468.2,640.68 467.53,640.81 466.88,640.89 466.25,640.89 465.65,640.84 465.1,640.74 464.59,640.58 464.15,640.37 463.78,640.13 463.49,639.85 463.27,639.55 463.14,639.23 463.1,638.9 463.14,638.57 463.27,638.25 463.49,637.95 463.78,637.67 464.15,637.43 464.59,637.22 465.1,637.06 465.65,636.96 466.25,636.91 466.88,636.91 467.53,636.99 468.2,637.12 468.87,637.32 469.52,637.59 470.15,637.92 470.75,638.31 471.3,638.75 471.81,639.25 472.25,639.79 472.62,640.37 472.91,640.99 473.13,641.63 473.26,642.28 473.3,642.95 473.26,643.62 473.13,644.27 472.91,644.91 472.62,645.53 472.25,646.11 471.81,646.65 471.3,647.15 470.75,647.59 470.15,647.98 469.52,648.31 468.87,648.58 468.2,648.78 467.53,648.91 466.88,648.99 466.25,648.99 465.65,648.94 465.1,648.84 464.59,648.68 464.15,648.47 463.78,648.23 463.49,647.95 463.27,647.65 463.14,647.33 463.1,647 463.14,646.67 463.27,646.35 463.49,646.05 463.78,645.77 464.15,645.53 464.59,645.32 465.1,645.16 465.65,645.06 466.25,645.01 466.88,645.01 467.53,645.09 468.2,645.22 468.87,645.42 469.52,645.69 470.15,646.02 470.75,646.41 471.3,646.85 471.81,647.35 472.25,647.89 472.62,648.47 472.91,649.09 473.13,649.73 473.26,650.38 473.3,651.05 473.26,651.72 473.13,652.37 472.91,653.01 472.62,653.63 472.25,654.21 471.81,654.75 471.3,655.25 470.75,655.69 470.15,656.08 469.52,656.41 468.87,656.68 468.2,656.88 467.53,657.01 466.88,657.09 466.25,657.09 465.65,657.04 465.1,656.94 464.59,656.78 464.15,656.57 463.78,656.33 463.49,656.05 463.27,655.75 463.14,655.43 463.1,655.1 463.14,654.77 463.27,654.45 463.49,654.15 463.78,653.87 464.15,653.63 464.59,653.42 465.1,653.26 465.65,653.16 466.25,653.11 466.88,653.11 467.53,653.19 468.2,653.32 468.87,653.52 469.52,653.79 470.15,654.12 470.75,654.51 471.3,654.95 471.81,655.45 472.25,655.99 472.62,656.57 472.91,657.19 473.13,657.83 473.26,658.48 473.3,659.15 473.26,659.82 473.13,660.47 472.91,661.11 472.62,661.73 472.25,662.31 471.81,662.85 471.3,663.35 470.75,663.79 470.15,664.18 469.52,664.51 468.87,664.78 468.2,664.98 467.53,665.11 466.88,665.19 466.25,665.19 465.65,665.14 465.1,665.04 464.59,664.88 464.15,664.67 463.78,664.43 463.49,664.15 463.27,663.85 463.14,663.53 463.1,663.2 463.14,662.87 463.27,662.55 463.49,662.25 463.78,661.97 464.15,661.73 464.59,661.52 465.1,661.36 465.65,661.26 466.25,661.21 466.88,661.21 467.53,661.29 468.2,661.42 468.87,661.62 469.52,661.89 470.15,662.22 470.75,662.61 471.3,663.05 471.81,663.55 472.25,664.09 472.62,664.67 472.91,665.29 473.13,665.93 473.26,666.58 473.3,667.25 Q473.3,673.2 467.35,673.2 L440,673.2" fill="none" stroke="#333" stroke-width="1.1" stroke-linejoin="round"/>
<circle cx="49.3" cy="325.2" r="23.6" fill="none" stroke="#1a1a1a" stroke-width="2.1"/>
<circle cx="60.6" cy="298.2" r="5.1" fill="#fff" stroke="#222" stroke-width="1.0"/>
<text x="60.6" y="302.18" font-size="10.5" font-family="Liberation Sans" font-weight="normal" fill="#1a1a1a" text-anchor="middle" textLength="4.6" lengthAdjust="spacingAndGlyphs" stroke="#1a1a1a" stroke-width="0.2">5</text>
<circle cx="20.4" cy="314.4" r="5.1" fill="#fff" stroke="#222" stroke-width="1.0"/>
<text x="20.4" y="318.38" font-size="10.5" font-family="Liberation Sans" font-weight="normal" fill="#1a1a1a" text-anchor="middle" textLength="4.6" lengthAdjust="spacingAndGlyphs" stroke="#1a1a1a" stroke-width="0.2">3</text>
<circle cx="20.4" cy="337.4" r="5.1" fill="#fff" stroke="#222" stroke-width="1.0"/>
<text x="20.4" y="341.38" font-size="10.5" font-family="Liberation Sans" font-weight="normal" fill="#1a1a1a" text-anchor="middle" textLength="4.6" lengthAdjust="spacingAndGlyphs" stroke="#1a1a1a" stroke-width="0.2">2</text>
<circle cx="77.7" cy="337.4" r="5.1" fill="#fff" stroke="#222" stroke-width="1.0"/>
<text x="77.7" y="341.38" font-size="10.5" font-family="Liberation Sans" font-weight="normal" fill="#1a1a1a" text-anchor="middle" textLength="4.6" lengthAdjust="spacingAndGlyphs" stroke="#1a1a1a" stroke-width="0.2">7</text>
<circle cx="35.4" cy="354.3" r="5.1" fill="#fff" stroke="#222" stroke-width="1.0"/>
<text x="35.4" y="358.28" font-size="10.5" font-family="Liberation Sans" font-weight="normal" fill="#1a1a1a" text-anchor="middle" textLength="4.6" lengthAdjust="spacingAndGlyphs" stroke="#1a1a1a" stroke-width="0.2">1</text>
<circle cx="61.7" cy="354.3" r="5.1" fill="#fff" stroke="#222" stroke-width="1.0"/>
<text x="61.7" y="358.28" font-size="10.5" font-family="Liberation Sans" font-weight="normal" fill="#1a1a1a" text-anchor="middle" textLength="4.6" lengthAdjust="spacingAndGlyphs" stroke="#1a1a1a" stroke-width="0.2">8</text>
<rect x="47.2" y="349.5" width="5.5" height="9" fill="#111"/>
<line x1="44.5" y1="316.2" x2="54.5" y2="316.2" stroke="#222" stroke-width="1.6"/>
<line x1="49.3" y1="316.2" x2="49.3" y2="310" stroke="#333" stroke-width="1.1"/>
<line x1="49.3" y1="310" x2="26.5" y2="316.8" stroke="#333" stroke-width="1.1"/>
<line x1="41" y1="322.4" x2="45.5" y2="322.4" stroke="#222" stroke-width="1.6"/>
<line x1="48" y1="322.4" x2="52.5" y2="322.4" stroke="#222" stroke-width="1.6"/>
<line x1="55" y1="322.4" x2="59.5" y2="322.4" stroke="#222" stroke-width="1.6"/>
<line x1="59.5" y1="322.4" x2="62.4" y2="322.4" stroke="#333" stroke-width="1.1"/>
<line x1="62.4" y1="322.4" x2="58.5" y2="303.5" stroke="#333" stroke-width="1.1"/>
<polyline points="40.9,332.9 40.9,329.7 56.9,329.7 60.5,333 59,335 61.2,336 58.5,349.5" fill="none" stroke="#333" stroke-width="1.0" stroke-linejoin="round"/>
<line x1="40.9" y1="329.7" x2="56.9" y2="329.7" stroke="#222" stroke-width="1.7"/>
<polyline points="26.2,337 44.4,342.5 49.9,337 56.9,342.5 72.8,337" fill="none" stroke="#222" stroke-width="1.9" stroke-linejoin="round"/>
<circle cx="48.7" cy="437.4" r="24.5" fill="none" stroke="#1a1a1a" stroke-width="2.1"/>
<circle cx="37.9" cy="409.2" r="5.1" fill="#fff" stroke="#222" stroke-width="1.0"/>
<text x="37.9" y="413.18" font-size="10.5" font-family="Liberation Sans" font-weight="normal" fill="#1a1a1a" text-anchor="middle" textLength="4.6" lengthAdjust="spacingAndGlyphs" stroke="#1a1a1a" stroke-width="0.2">4</text>
<circle cx="60.7" cy="409.2" r="5.1" fill="#fff" stroke="#222" stroke-width="1.0"/>
<text x="60.7" y="413.18" font-size="10.5" font-family="Liberation Sans" font-weight="normal" fill="#1a1a1a" text-anchor="middle" textLength="4.6" lengthAdjust="spacingAndGlyphs" stroke="#1a1a1a" stroke-width="0.2">5</text>
<circle cx="19.1" cy="426.6" r="5.1" fill="#fff" stroke="#222" stroke-width="1.0"/>
<text x="19.1" y="430.58" font-size="10.5" font-family="Liberation Sans" font-weight="normal" fill="#1a1a1a" text-anchor="middle" textLength="4.6" lengthAdjust="spacingAndGlyphs" stroke="#1a1a1a" stroke-width="0.2">3</text>
<circle cx="77.4" cy="426.6" r="5.1" fill="#fff" stroke="#222" stroke-width="1.0"/>
<text x="77.4" y="430.58" font-size="10.5" font-family="Liberation Sans" font-weight="normal" fill="#1a1a1a" text-anchor="middle" textLength="4.6" lengthAdjust="spacingAndGlyphs" stroke="#1a1a1a" stroke-width="0.2">6</text>
<circle cx="19.1" cy="449.1" r="5.1" fill="#fff" stroke="#222" stroke-width="1.0"/>
<text x="19.1" y="453.08" font-size="10.5" font-family="Liberation Sans" font-weight="normal" fill="#1a1a1a" text-anchor="middle" textLength="4.6" lengthAdjust="spacingAndGlyphs" stroke="#1a1a1a" stroke-width="0.2">2</text>
<circle cx="77.4" cy="449.1" r="5.1" fill="#fff" stroke="#222" stroke-width="1.0"/>
<text x="77.4" y="453.08" font-size="10.5" font-family="Liberation Sans" font-weight="normal" fill="#1a1a1a" text-anchor="middle" textLength="4.6" lengthAdjust="spacingAndGlyphs" stroke="#1a1a1a" stroke-width="0.2">7</text>
<circle cx="34.9" cy="467.4" r="5.1" fill="#fff" stroke="#222" stroke-width="1.0"/>
<text x="34.9" y="471.38" font-size="10.5" font-family="Liberation Sans" font-weight="normal" fill="#1a1a1a" text-anchor="middle" textLength="4.6" lengthAdjust="spacingAndGlyphs" stroke="#1a1a1a" stroke-width="0.2">1</text>
<circle cx="59.9" cy="467.4" r="5.1" fill="#fff" stroke="#222" stroke-width="1.0"/>
<text x="59.9" y="471.38" font-size="10.5" font-family="Liberation Sans" font-weight="normal" fill="#1a1a1a" text-anchor="middle" textLength="4.6" lengthAdjust="spacingAndGlyphs" stroke="#1a1a1a" stroke-width="0.2">8</text>
<rect x="44.9" y="463.5" width="5" height="8.5" fill="#111"/>
<line x1="44" y1="429.1" x2="51.8" y2="429.1" stroke="#222" stroke-width="1.6"/>
<line x1="48.3" y1="429.1" x2="48.3" y2="424.1" stroke="#333" stroke-width="1.1"/>
<line x1="48.3" y1="424.1" x2="58" y2="414.5" stroke="#333" stroke-width="1.1"/>
<line x1="37.4" y1="435.8" x2="41.5" y2="435.8" stroke="#222" stroke-width="1.6"/>
<line x1="44" y1="435.8" x2="48" y2="435.8" stroke="#222" stroke-width="1.6"/>
<line x1="50.5" y1="435.8" x2="55.7" y2="435.8" stroke="#222" stroke-width="1.6"/>
<polyline points="37.4,435.8 35,435.8 35.5,452 37.5,462.5" fill="none" stroke="#333" stroke-width="1.0" stroke-linejoin="round"/>
<line x1="39.1" y1="442.9" x2="57.4" y2="442.9" stroke="#222" stroke-width="1.7"/>
<polyline points="39.1,447 39.1,442.9" fill="none" stroke="#333" stroke-width="1.0" stroke-linejoin="round"/>
<polyline points="57.4,442.9 59.5,446 58,448 60,449 58,462.5" fill="none" stroke="#333" stroke-width="1.0" stroke-linejoin="round"/>
<polyline points="24.8,449 41.6,454.1 47.4,448.3 54.9,454.1 72.6,449" fill="none" stroke="#222" stroke-width="1.9" stroke-linejoin="round"/>
<text x="115.3" y="19.28" font-size="10.5" font-family="Liberation Sans" font-weight="normal" fill="#1a1a1a" text-anchor="start" textLength="6.9" lengthAdjust="spacingAndGlyphs" stroke="#1a1a1a" stroke-width="0.22">V</text>
<text x="124.4" y="20.96" font-size="8.5" font-family="Liberation Sans" font-weight="normal" fill="#2a2a2a" text-anchor="start" textLength="2.6" lengthAdjust="spacingAndGlyphs" stroke="#2a2a2a" stroke-width="0.15">1</text>
<text x="135.7" y="19.49" font-size="10.8" font-family="Liberation Sans" font-weight="normal" fill="#1a1a1a" text-anchor="start" textLength="23.9" lengthAdjust="spacingAndGlyphs" stroke="#1a1a1a" stroke-width="0.22">6J5</text>
<text x="236.1" y="18.98" font-size="10.5" font-family="Liberation Sans" font-weight="normal" fill="#1a1a1a" text-anchor="start" textLength="6.8" lengthAdjust="spacingAndGlyphs" stroke="#1a1a1a" stroke-width="0.22">V</text>
<text x="244.3" y="20.97" font-size="8.8" font-family="Liberation Sans" font-weight="normal" fill="#2a2a2a" text-anchor="start" textLength="5.7" lengthAdjust="spacingAndGlyphs" stroke="#222" stroke-width="0.2">2</text>
<text x="257.1" y="19.59" font-size="10.8" font-family="Liberation Sans" font-weight="normal" fill="#1a1a1a" text-anchor="start" textLength="33.7" lengthAdjust="spacingAndGlyphs" stroke="#1a1a1a" stroke-width="0.22">6AH4</text>
<text x="370.3" y="21.08" font-size="10.5" font-family="Liberation Sans" font-weight="normal" fill="#1a1a1a" text-anchor="start" textLength="7.2" lengthAdjust="spacingAndGlyphs" stroke="#1a1a1a" stroke-width="0.22">V</text>
<text x="378.5" y="20.97" font-size="8.8" font-family="Liberation Sans" font-weight="normal" fill="#2a2a2a" text-anchor="start" textLength="5.7" lengthAdjust="spacingAndGlyphs" stroke="#222" stroke-width="0.2">3</text>
<circle cx="445.6" cy="16.5" r="0.7" fill="#555"/>
<text x="451.2" y="20.69" font-size="10.8" font-family="Liberation Sans" font-weight="normal" fill="#1a1a1a" text-anchor="start" textLength="33.8" lengthAdjust="spacingAndGlyphs" stroke="#1a1a1a" stroke-width="0.22">300B</text>
<text x="567" y="388.78" font-size="10.5" font-family="Liberation Sans" font-weight="normal" fill="#1a1a1a" text-anchor="start" textLength="7.2" lengthAdjust="spacingAndGlyphs" stroke="#1a1a1a" stroke-width="0.22">V</text>
<text x="575.5" y="390.36" font-size="8.5" font-family="Liberation Sans" font-weight="normal" fill="#2a2a2a" text-anchor="start" textLength="5.5" lengthAdjust="spacingAndGlyphs" stroke="#222" stroke-width="0.3">4</text>
<text x="586" y="388.89" font-size="10.8" font-family="Liberation Sans" font-weight="normal" fill="#1a1a1a" text-anchor="start" textLength="36.5" lengthAdjust="spacingAndGlyphs" stroke="#1a1a1a" stroke-width="0.22">300B</text>
<text x="564.5" y="542.78" font-size="10.5" font-family="Liberation Sans" font-weight="normal" fill="#1a1a1a" text-anchor="start" textLength="7.2" lengthAdjust="spacingAndGlyphs" stroke="#1a1a1a" stroke-width="0.22">V</text>
<text x="573" y="544.36" font-size="8.5" font-family="Liberation Sans" font-weight="normal" fill="#2a2a2a" text-anchor="start" textLength="5.5" lengthAdjust="spacingAndGlyphs" stroke="#222" stroke-width="0.3">5</text>
<text x="584" y="542.89" font-size="10.8" font-family="Liberation Sans" font-weight="normal" fill="#1a1a1a" text-anchor="start" textLength="35.5" lengthAdjust="spacingAndGlyphs" stroke="#1a1a1a" stroke-width="0.22">300B</text>
<text x="38.1" y="378.08" font-size="10.5" font-family="Liberation Sans" font-weight="normal" fill="#1a1a1a" text-anchor="start" textLength="22.9" lengthAdjust="spacingAndGlyphs" stroke="#1a1a1a" stroke-width="0.35">6J5</text>
<text x="18.6" y="516.7" font-size="10" font-family="Liberation Sans" font-weight="normal" fill="#1a1a1a" text-anchor="start" textLength="55.4" lengthAdjust="spacingAndGlyphs" stroke="#1a1a1a" stroke-width="0.3">6AH4-GT</text>
<text x="153.6" y="46.84" font-size="12.9" font-family="Liberation Sans" font-weight="normal" fill="#2a2a2a" text-anchor="start" textLength="18.3" lengthAdjust="spacingAndGlyphs" stroke="#2a2a2a" stroke-width="0.15">90V</text>
<text x="139.3" y="57.64" font-size="12.9" font-family="Liberation Sans" font-weight="normal" fill="#2a2a2a" text-anchor="start" textLength="5.6" lengthAdjust="spacingAndGlyphs" stroke="#2a2a2a" stroke-width="0.15">3</text>
<text x="106.1" y="79.54" font-size="12.9" font-family="Liberation Sans" font-weight="normal" fill="#2a2a2a" text-anchor="start" textLength="4.9" lengthAdjust="spacingAndGlyphs" stroke="#2a2a2a" stroke-width="0.15">5</text>
<text x="118.2" y="114.34" font-size="12.9" font-family="Liberation Sans" font-weight="normal" fill="#2a2a2a" text-anchor="start" textLength="4.6" lengthAdjust="spacingAndGlyphs" stroke="#2a2a2a" stroke-width="0.15">8</text>
<text x="131" y="116.94" font-size="12.9" font-family="Liberation Sans" font-weight="normal" fill="#2a2a2a" text-anchor="start" textLength="21.3" lengthAdjust="spacingAndGlyphs" stroke="#2a2a2a" stroke-width="0.15">2.5V</text>
<text x="48.3" y="109.94" font-size="12.9" font-family="Liberation Sans" font-weight="normal" fill="#2a2a2a" text-anchor="start" textLength="15.3" lengthAdjust="spacingAndGlyphs" stroke="#2a2a2a" stroke-width="0.15"><tspan font-size="12.3">VR</tspan><tspan font-size="9.5" dy="1.3">1</tspan></text>
<text x="41" y="122.64" font-size="12.9" font-family="Liberation Sans" font-weight="normal" fill="#2a2a2a" text-anchor="start" textLength="27" lengthAdjust="spacingAndGlyphs" stroke="#2a2a2a" stroke-width="0.15">100kΩ</text>
<text x="45.4" y="134.83" font-size="12.3" font-family="Liberation Sans" font-weight="normal" fill="#2a2a2a" text-anchor="start" textLength="18.2" lengthAdjust="spacingAndGlyphs">( A )</text>
<text x="105.8" y="146.34" font-size="12.9" font-family="Liberation Sans" font-weight="normal" fill="#2a2a2a" text-anchor="start" textLength="10.2" lengthAdjust="spacingAndGlyphs" stroke="#2a2a2a" stroke-width="0.15"><tspan font-size="12">R</tspan><tspan font-size="9.5" dy="1.3">1</tspan></text>
<text x="105" y="159.04" font-size="12.9" font-family="Liberation Sans" font-weight="normal" fill="#2a2a2a" text-anchor="start" textLength="16.8" lengthAdjust="spacingAndGlyphs" stroke="#2a2a2a" stroke-width="0.15">1kΩ</text>
<text x="159.5" y="142.14" font-size="12.9" font-family="Liberation Sans" font-weight="normal" fill="#2a2a2a" text-anchor="start" textLength="10.5" lengthAdjust="spacingAndGlyphs" stroke="#2a2a2a" stroke-width="0.15"><tspan font-size="11.6">C</tspan><tspan font-size="9.2" dy="1.3">1</tspan></text>
<text x="159.5" y="155.64" font-size="12.9" font-family="Liberation Sans" font-weight="normal" fill="#2a2a2a" text-anchor="start" textLength="26.5" lengthAdjust="spacingAndGlyphs" stroke="#2a2a2a" stroke-width="0.15">100μF</text>
<text x="159.5" y="169.14" font-size="12.9" font-family="Liberation Sans" font-weight="normal" fill="#2a2a2a" text-anchor="start" textLength="16.5" lengthAdjust="spacingAndGlyphs" stroke="#2a2a2a" stroke-width="0.15">35V</text>
<text x="159.5" y="180.64" font-size="12.9" font-family="Liberation Sans" font-weight="normal" fill="#2a2a2a" text-anchor="start" textLength="15.5" lengthAdjust="spacingAndGlyphs" stroke="#2a2a2a" stroke-width="0.15">KM</text>
<text x="171.5" y="112.14" font-size="12.9" font-family="Liberation Sans" font-weight="normal" fill="#2a2a2a" text-anchor="start" textLength="13" lengthAdjust="spacingAndGlyphs" stroke="#2a2a2a" stroke-width="0.15"><tspan font-size="11.6">R</tspan><tspan font-size="9.2" dy="1.3">2</tspan></text>
<text x="158.8" y="124.64" font-size="12.9" font-family="Liberation Sans" font-weight="normal" fill="#2a2a2a" text-anchor="start" textLength="26.5" lengthAdjust="spacingAndGlyphs" stroke="#2a2a2a" stroke-width="0.15">47kΩ</text>
<text x="225" y="109.44" font-size="12.9" font-family="Liberation Sans" font-weight="normal" fill="#2a2a2a" text-anchor="start" textLength="12.5" lengthAdjust="spacingAndGlyphs" stroke="#2a2a2a" stroke-width="0.15"><tspan font-size="11.6">C</tspan><tspan font-size="9.2" dy="1.3">2</tspan></text>
<text x="219.8" y="125.94" font-size="12.9" font-family="Liberation Sans" font-weight="normal" fill="#2a2a2a" text-anchor="start" textLength="25.5" lengthAdjust="spacingAndGlyphs" stroke="#2a2a2a" stroke-width="0.15">100pF</text>
<text x="223.5" y="143.44" font-size="12.9" font-family="Liberation Sans" font-weight="normal" fill="#2a2a2a" text-anchor="start" textLength="13.5" lengthAdjust="spacingAndGlyphs" stroke="#2a2a2a" stroke-width="0.15"><tspan font-size="11.6">R</tspan><tspan font-size="9.2" dy="1.3">3</tspan></text>
<text x="197.5" y="154.64" font-size="12.9" font-family="Liberation Sans" font-weight="normal" fill="#2a2a2a" text-anchor="start" textLength="9.5" lengthAdjust="spacingAndGlyphs" stroke="#2a2a2a" stroke-width="0.15">15</text>
<text x="199" y="166.64" font-size="12.9" font-family="Liberation Sans" font-weight="normal" fill="#2a2a2a" text-anchor="start" textLength="15" lengthAdjust="spacingAndGlyphs" stroke="#2a2a2a" stroke-width="0.15">kΩ</text>
<text x="278.6" y="47.64" font-size="12.9" font-family="Liberation Sans" font-weight="normal" fill="#2a2a2a" text-anchor="start" textLength="26" lengthAdjust="spacingAndGlyphs" stroke="#2a2a2a" stroke-width="0.15">268V</text>
<text x="267.3" y="59.44" font-size="12.9" font-family="Liberation Sans" font-weight="normal" fill="#2a2a2a" text-anchor="start" textLength="5" lengthAdjust="spacingAndGlyphs" stroke="#2a2a2a" stroke-width="0.15">5</text>
<text x="236.1" y="79.64" font-size="12.9" font-family="Liberation Sans" font-weight="normal" fill="#2a2a2a" text-anchor="start" textLength="2.9" lengthAdjust="spacingAndGlyphs" stroke="#2a2a2a" stroke-width="0.15">1</text>
<text x="247" y="114.84" font-size="12.9" font-family="Liberation Sans" font-weight="normal" fill="#2a2a2a" text-anchor="start" textLength="4" lengthAdjust="spacingAndGlyphs" stroke="#2a2a2a" stroke-width="0.15">8</text>
<text x="258.9" y="117.74" font-size="12.9" font-family="Liberation Sans" font-weight="normal" fill="#2a2a2a" text-anchor="start" textLength="19.7" lengthAdjust="spacingAndGlyphs" stroke="#2a2a2a" stroke-width="0.15">103V</text>
<text x="236.5" y="164.54" font-size="12.9" font-family="Liberation Sans" font-weight="normal" fill="#2a2a2a" text-anchor="start" textLength="10.5" lengthAdjust="spacingAndGlyphs" stroke="#2a2a2a" stroke-width="0.15"><tspan font-size="11.6">R</tspan><tspan font-size="9.2" dy="1.3">4</tspan></text>
<text x="225.9" y="175.74" font-size="12.9" font-family="Liberation Sans" font-weight="normal" fill="#2a2a2a" text-anchor="start" textLength="22.4" lengthAdjust="spacingAndGlyphs" stroke="#2a2a2a" stroke-width="0.15">15kΩ</text>
<text x="229.9" y="187.24" font-size="12.9" font-family="Liberation Sans" font-weight="normal" fill="#2a2a2a" text-anchor="start" textLength="13.8" lengthAdjust="spacingAndGlyphs" stroke="#2a2a2a" stroke-width="0.15">3W</text>
<text x="289.8" y="148.74" font-size="12.9" font-family="Liberation Sans" font-weight="normal" fill="#2a2a2a" text-anchor="start" textLength="11.2" lengthAdjust="spacingAndGlyphs" stroke="#2a2a2a" stroke-width="0.15"><tspan font-size="11.6">C</tspan><tspan font-size="9.2" dy="1.3">3</tspan></text>
<text x="286.5" y="161.24" font-size="12.9" font-family="Liberation Sans" font-weight="normal" fill="#2a2a2a" text-anchor="start" textLength="21.8" lengthAdjust="spacingAndGlyphs" stroke="#2a2a2a" stroke-width="0.15">47μF</text>
<text x="286.5" y="172.74" font-size="12.9" font-family="Liberation Sans" font-weight="normal" fill="#2a2a2a" text-anchor="start" textLength="21.8" lengthAdjust="spacingAndGlyphs" stroke="#2a2a2a" stroke-width="0.15">200V</text>
<text x="299" y="105.94" font-size="12.9" font-family="Liberation Sans" font-weight="normal" fill="#2a2a2a" text-anchor="start" textLength="11.9" lengthAdjust="spacingAndGlyphs" stroke="#2a2a2a" stroke-width="0.15"><tspan font-size="11.6">R</tspan><tspan font-size="9.2" dy="1.3">5</tspan></text>
<text x="289.2" y="117.44" font-size="12.9" font-family="Liberation Sans" font-weight="normal" fill="#2a2a2a" text-anchor="start" textLength="23.7" lengthAdjust="spacingAndGlyphs" stroke="#2a2a2a" stroke-width="0.15">27kΩ</text>
<text x="293.1" y="129.64" font-size="12.9" font-family="Liberation Sans" font-weight="normal" fill="#2a2a2a" text-anchor="start" textLength="14.5" lengthAdjust="spacingAndGlyphs" stroke="#2a2a2a" stroke-width="0.15">3W</text>
<text x="328.2" y="70.54" font-size="12.9" font-family="Liberation Sans" font-weight="normal" fill="#2a2a2a" text-anchor="start" textLength="70.5" lengthAdjust="spacingAndGlyphs" stroke="#2a2a2a" stroke-width="0.15"><tspan font-size="12.9">C</tspan><tspan font-size="9" dy="1.3">4</tspan><tspan font-size="12.9" dy="-1.3"> 0.22μF 600V</tspan></text>
<text x="342.6" y="119.44" font-size="12.9" font-family="Liberation Sans" font-weight="normal" fill="#2a2a2a" text-anchor="start" textLength="11.2" lengthAdjust="spacingAndGlyphs" stroke="#2a2a2a" stroke-width="0.15"><tspan font-size="11.6">R</tspan><tspan font-size="9.2" dy="1.3">6</tspan></text>
<text x="337" y="131.44" font-size="12.9" font-family="Liberation Sans" font-weight="normal" fill="#2a2a2a" text-anchor="start" textLength="15.2" lengthAdjust="spacingAndGlyphs" stroke="#2a2a2a" stroke-width="0.15">200</text>
<text x="342.6" y="144.94" font-size="12.9" font-family="Liberation Sans" font-weight="normal" fill="#2a2a2a" text-anchor="start" textLength="14.4" lengthAdjust="spacingAndGlyphs" stroke="#2a2a2a" stroke-width="0.15">kΩ</text>
<text x="398.3" y="81.74" font-size="12.9" font-family="Liberation Sans" font-weight="normal" fill="#2a2a2a" text-anchor="start" textLength="3.9" lengthAdjust="spacingAndGlyphs" stroke="#2a2a2a" stroke-width="0.15">3</text>
<text x="398.9" y="100.24" font-size="12.9" font-family="Liberation Sans" font-weight="normal" fill="#2a2a2a" text-anchor="start" textLength="2.7" lengthAdjust="spacingAndGlyphs" stroke="#2a2a2a" stroke-width="0.15">1</text>
<text x="430.1" y="58.84" font-size="12.9" font-family="Liberation Sans" font-weight="normal" fill="#2a2a2a" text-anchor="start" textLength="4.2" lengthAdjust="spacingAndGlyphs" stroke="#2a2a2a" stroke-width="0.15">2</text>
<text x="449.3" y="100.64" font-size="12.9" font-family="Liberation Sans" font-weight="normal" fill="#2a2a2a" text-anchor="start" textLength="4.7" lengthAdjust="spacingAndGlyphs" stroke="#2a2a2a" stroke-width="0.15">4</text>
<text x="448" y="48.84" font-size="12.9" font-family="Liberation Sans" font-weight="normal" fill="#2a2a2a" text-anchor="start" textLength="24.8" lengthAdjust="spacingAndGlyphs" stroke="#2a2a2a" stroke-width="0.15">485V</text>
<text x="473.9" y="74.44" font-size="12.9" font-family="Liberation Sans" font-weight="normal" fill="#2a2a2a" text-anchor="start" textLength="25.1" lengthAdjust="spacingAndGlyphs" stroke="#2a2a2a" stroke-width="0.15">82mA</text>
<text x="493.1" y="89.64" font-size="12.9" font-family="Liberation Sans" font-weight="normal" fill="#2a2a2a" text-anchor="start" textLength="5.9" lengthAdjust="spacingAndGlyphs" stroke="#2a2a2a" stroke-width="0.15">P</text>
<text x="493.5" y="142.14" font-size="12.9" font-family="Liberation Sans" font-weight="normal" fill="#2a2a2a" text-anchor="start" textLength="6.5" lengthAdjust="spacingAndGlyphs" stroke="#2a2a2a" stroke-width="0.15">B</text>
<text x="514.4" y="72.14" font-size="10.4" font-family="Liberation Sans" font-weight="normal" fill="#444" text-anchor="start" textLength="42.3" lengthAdjust="spacingAndGlyphs">NS-035S</text>
<text x="581.2" y="82.14" font-size="12.9" font-family="Liberation Sans" font-weight="normal" fill="#2a2a2a" text-anchor="start" textLength="15.5" lengthAdjust="spacingAndGlyphs" stroke="#2a2a2a" stroke-width="0.15">8Ω</text>
<text x="580" y="114.64" font-size="12.9" font-family="Liberation Sans" font-weight="normal" fill="#2a2a2a" text-anchor="start" textLength="15" lengthAdjust="spacingAndGlyphs" stroke="#2a2a2a" stroke-width="0.15">6Ω</text>
<text x="583.8" y="135.64" font-size="12.9" font-family="Liberation Sans" font-weight="normal" fill="#2a2a2a" text-anchor="start" textLength="5" lengthAdjust="spacingAndGlyphs" stroke="#2a2a2a" stroke-width="0.15">0</text>
<text x="405" y="118.14" font-size="12.9" font-family="Liberation Sans" font-weight="normal" fill="#2a2a2a" text-anchor="start" textLength="11.1" lengthAdjust="spacingAndGlyphs" stroke="#2a2a2a" stroke-width="0.15"><tspan font-size="10.5">R</tspan><tspan font-size="9.2" dy="1.3">9</tspan></text>
<text x="435.9" y="118.84" font-size="12.9" font-family="Liberation Sans" font-weight="normal" fill="#2a2a2a" text-anchor="start" textLength="14.1" lengthAdjust="spacingAndGlyphs" stroke="#2a2a2a" stroke-width="0.15"><tspan font-size="10.5">R</tspan><tspan font-size="9.2" dy="1.3">10</tspan></text>
<text x="402.2" y="141.34" font-size="12.9" font-family="Liberation Sans" font-weight="normal" fill="#2a2a2a" text-anchor="start" textLength="18.3" lengthAdjust="spacingAndGlyphs" stroke="#2a2a2a" stroke-width="0.15">15Ω</text>
<text x="431.7" y="141.34" font-size="12.9" font-family="Liberation Sans" font-weight="normal" fill="#2a2a2a" text-anchor="start" textLength="18.8" lengthAdjust="spacingAndGlyphs" stroke="#2a2a2a" stroke-width="0.15">15Ω</text>
<text x="382.2" y="141.64" font-size="12.9" font-family="Liberation Sans" font-weight="normal" fill="#2a2a2a" text-anchor="start" textLength="5.2" lengthAdjust="spacingAndGlyphs" stroke="#2a2a2a" stroke-width="0.15">F</text>
<text x="461.1" y="141.64" font-size="12.9" font-family="Liberation Sans" font-weight="normal" fill="#2a2a2a" text-anchor="start" textLength="5.6" lengthAdjust="spacingAndGlyphs" stroke="#2a2a2a" stroke-width="0.15">F</text>
<text x="378.9" y="160.84" font-size="12.9" font-family="Liberation Sans" font-weight="normal" fill="#2a2a2a" text-anchor="start" textLength="33.9" lengthAdjust="spacingAndGlyphs" stroke="#2a2a2a" stroke-width="0.15"><tspan font-size="11.6">C</tspan><tspan font-size="9.2" dy="1.3">5</tspan><tspan font-size="12.9" dy="-1.3"> 1μF</tspan></text>
<text x="428.9" y="167.14" font-size="12.9" font-family="Liberation Sans" font-weight="normal" fill="#2a2a2a" text-anchor="start" textLength="18.3" lengthAdjust="spacingAndGlyphs" stroke="#2a2a2a" stroke-width="0.15">82V</text>
<text x="341.8" y="193.34" font-size="12.9" font-family="Liberation Sans" font-weight="normal" fill="#2a2a2a" text-anchor="start" textLength="12" lengthAdjust="spacingAndGlyphs" stroke="#2a2a2a" stroke-width="0.15"><tspan font-size="11.6">R</tspan><tspan font-size="9.2" dy="1.3">7</tspan></text>
<text x="331.4" y="206.04" font-size="12.9" font-family="Liberation Sans" font-weight="normal" fill="#2a2a2a" text-anchor="start" textLength="24" lengthAdjust="spacingAndGlyphs" stroke="#2a2a2a" stroke-width="0.15">10kΩ</text>
<text x="403.5" y="193.44" font-size="12.9" font-family="Liberation Sans" font-weight="normal" fill="#2a2a2a" text-anchor="start" textLength="11.5" lengthAdjust="spacingAndGlyphs" stroke="#2a2a2a" stroke-width="0.15"><tspan font-size="11.6">R</tspan><tspan font-size="9.2" dy="1.3">8</tspan></text>
<text x="397.3" y="205.94" font-size="12.9" font-family="Liberation Sans" font-weight="normal" fill="#2a2a2a" text-anchor="start" textLength="18" lengthAdjust="spacingAndGlyphs" stroke="#2a2a2a" stroke-width="0.15">1kΩ</text>
<text x="394.8" y="218.44" font-size="12.9" font-family="Liberation Sans" font-weight="normal" fill="#2a2a2a" text-anchor="start" textLength="20.5" lengthAdjust="spacingAndGlyphs" stroke="#2a2a2a" stroke-width="0.15">50W</text>
<text x="460" y="187.14" font-size="12.9" font-family="Liberation Sans" font-weight="normal" fill="#2a2a2a" text-anchor="start" textLength="11.5" lengthAdjust="spacingAndGlyphs" stroke="#2a2a2a" stroke-width="0.15"><tspan font-size="11.6">C</tspan><tspan font-size="9.2" dy="1.3">6</tspan></text>
<text x="459.8" y="199.64" font-size="12.9" font-family="Liberation Sans" font-weight="normal" fill="#2a2a2a" text-anchor="start" textLength="28" lengthAdjust="spacingAndGlyphs" stroke="#2a2a2a" stroke-width="0.15">100μF</text>
<text x="460" y="212.14" font-size="12.9" font-family="Liberation Sans" font-weight="normal" fill="#2a2a2a" text-anchor="start" textLength="22" lengthAdjust="spacingAndGlyphs" stroke="#2a2a2a" stroke-width="0.15">160V</text>
<text x="159.8" y="220.94" font-size="12.9" font-family="Liberation Sans" font-weight="normal" fill="#2a2a2a" text-anchor="start" textLength="24" lengthAdjust="spacingAndGlyphs" stroke="#2a2a2a" stroke-width="0.15">200V</text>
<text x="217" y="233.44" font-size="12.9" font-family="Liberation Sans" font-weight="normal" fill="#2a2a2a" text-anchor="start" textLength="65.7" lengthAdjust="spacingAndGlyphs" stroke="#2a2a2a" stroke-width="0.15"><tspan font-size="11.6">R</tspan><tspan font-size="9.2" dy="1.3">13</tspan><tspan font-size="12.9" dy="-1.3"> 88kΩ 3W</tspan></text>
<path d="M243,236.3 Q239.5,238.5 241.5,240.8 Q243.5,243 240.5,245.5" fill="none" stroke="#333" stroke-width="1.1"/>
<text x="235.3" y="257.94" font-size="12.9" font-family="Liberation Sans" font-weight="normal" fill="#2a2a2a" text-anchor="start" textLength="30.6" lengthAdjust="spacingAndGlyphs" stroke="#2a2a2a" stroke-width="0.15">100kΩ</text>
<text x="324.5" y="245.94" font-size="12.9" font-family="Liberation Sans" font-weight="normal" fill="#2a2a2a" text-anchor="start" textLength="21.5" lengthAdjust="spacingAndGlyphs" stroke="#2a2a2a" stroke-width="0.15">369V</text>
<text x="375" y="265.94" font-size="12.9" font-family="Liberation Sans" font-weight="normal" fill="#2a2a2a" text-anchor="start" textLength="65" lengthAdjust="spacingAndGlyphs" stroke="#2a2a2a" stroke-width="0.15"><tspan font-size="11.6">R</tspan><tspan font-size="9.2" dy="1.3">14</tspan><tspan font-size="12.9" dy="-1.3"> 4.7kΩ 5W</tspan></text>
<text x="201" y="270.94" font-size="12.9" font-family="Liberation Sans" font-weight="normal" fill="#2a2a2a" text-anchor="start" textLength="12.5" lengthAdjust="spacingAndGlyphs" stroke="#2a2a2a" stroke-width="0.15"><tspan font-size="11.6">C</tspan><tspan font-size="9.2" dy="1.3">7</tspan></text>
<text x="200" y="284.14" font-size="12.9" font-family="Liberation Sans" font-weight="normal" fill="#2a2a2a" text-anchor="start" textLength="22" lengthAdjust="spacingAndGlyphs" stroke="#2a2a2a" stroke-width="0.15">68μF</text>
<text x="201.3" y="296.14" font-size="12.9" font-family="Liberation Sans" font-weight="normal" fill="#2a2a2a" text-anchor="start" textLength="24" lengthAdjust="spacingAndGlyphs" stroke="#2a2a2a" stroke-width="0.15">250V</text>
<text x="338.8" y="274.64" font-size="12.9" font-family="Liberation Sans" font-weight="normal" fill="#2a2a2a" text-anchor="start" textLength="12.5" lengthAdjust="spacingAndGlyphs" stroke="#2a2a2a" stroke-width="0.15"><tspan font-size="11.6">C</tspan><tspan font-size="9.2" dy="1.3">8</tspan></text>
<text x="338.5" y="287.14" font-size="12.9" font-family="Liberation Sans" font-weight="normal" fill="#2a2a2a" text-anchor="start" textLength="22" lengthAdjust="spacingAndGlyphs" stroke="#2a2a2a" stroke-width="0.15">47μF</text>
<text x="338.5" y="299.64" font-size="12.9" font-family="Liberation Sans" font-weight="normal" fill="#2a2a2a" text-anchor="start" textLength="23.5" lengthAdjust="spacingAndGlyphs" stroke="#2a2a2a" stroke-width="0.15">600V</text>
<text x="773" y="40.18" font-size="13" font-family="Liberation Sans" font-weight="normal" fill="#111" text-anchor="start" textLength="163.3" lengthAdjust="spacingAndGlyphs">When Ampere Meter is used</text>
<text x="721.3" y="108.44" font-size="12.9" font-family="Liberation Sans" font-weight="normal" fill="#2a2a2a" text-anchor="start" textLength="19" lengthAdjust="spacingAndGlyphs" stroke="#2a2a2a" stroke-width="0.15">15Ω</text>
<text x="772.5" y="108.44" font-size="12.9" font-family="Liberation Sans" font-weight="normal" fill="#2a2a2a" text-anchor="start" textLength="19" lengthAdjust="spacingAndGlyphs" stroke="#2a2a2a" stroke-width="0.15">15Ω</text>
<text x="724.5" y="155.94" font-size="12.9" font-family="Liberation Sans" font-weight="normal" fill="#2a2a2a" text-anchor="start" textLength="19.5" lengthAdjust="spacingAndGlyphs" stroke="#2a2a2a" stroke-width="0.15">1kΩ</text>
<text x="788.8" y="154.64" font-size="12.9" font-family="Liberation Sans" font-weight="normal" fill="#2a2a2a" text-anchor="start" textLength="27" lengthAdjust="spacingAndGlyphs" stroke="#2a2a2a" stroke-width="0.15">100μF</text>
<text x="726.3" y="198.44" font-size="12.9" font-family="Liberation Sans" font-weight="normal" fill="#2a2a2a" text-anchor="start" textLength="19" lengthAdjust="spacingAndGlyphs" stroke="#2a2a2a" stroke-width="0.15">10Ω</text>
<text x="730" y="210.94" font-size="12.9" font-family="Liberation Sans" font-weight="normal" fill="#2a2a2a" text-anchor="start" textLength="15" lengthAdjust="spacingAndGlyphs" stroke="#2a2a2a" stroke-width="0.15">2W</text>
<text x="832.5" y="278.3" font-size="12.5" font-family="Liberation Sans" font-weight="normal" fill="#111" text-anchor="start" textLength="67" lengthAdjust="spacingAndGlyphs">Heater Bias</text>
<text x="911.3" y="278.96" font-size="11" font-family="Liberation Sans" font-weight="normal" fill="#777" text-anchor="start" textLength="16.8" lengthAdjust="spacingAndGlyphs" stroke="#2a2a2a" stroke-width="0.15">60V</text>
<text x="860" y="305.96" font-size="11" font-family="Liberation Sans" font-weight="normal" fill="#2a2a2a" text-anchor="start" textLength="67.5" lengthAdjust="spacingAndGlyphs" stroke="#2a2a2a" stroke-width="0.15"><tspan font-size="11.5">C</tspan><tspan font-size="8.5" dy="1.3">9</tspan><tspan font-size="12.3" dy="-1.3"> 100μF 160V</tspan></text>
<text x="805" y="337.76" font-size="11" font-family="Liberation Sans" font-weight="normal" fill="#2a2a2a" text-anchor="start" textLength="41.3" lengthAdjust="spacingAndGlyphs" stroke="#2a2a2a" stroke-width="0.15">150kΩ3W</text>
<text x="852.5" y="337.76" font-size="11" font-family="Liberation Sans" font-weight="normal" fill="#2a2a2a" text-anchor="start" textLength="38.8" lengthAdjust="spacingAndGlyphs" stroke="#2a2a2a" stroke-width="0.15">20kΩ3W</text>
<text x="818.8" y="363.96" font-size="11" font-family="Liberation Sans" font-weight="normal" fill="#2a2a2a" text-anchor="start" textLength="15" lengthAdjust="spacingAndGlyphs" stroke="#2a2a2a" stroke-width="0.15"><tspan font-size="10.5">R</tspan><tspan font-size="8" dy="1.3">11</tspan></text>
<text x="862.5" y="363.96" font-size="11" font-family="Liberation Sans" font-weight="normal" fill="#2a2a2a" text-anchor="start" textLength="17" lengthAdjust="spacingAndGlyphs" stroke="#2a2a2a" stroke-width="0.15"><tspan font-size="10.5">R</tspan><tspan font-size="8" dy="1.3">12</tspan></text>
<text x="816.3" y="453.96" font-size="11" font-family="Liberation Sans" font-weight="normal" fill="#2a2a2a" text-anchor="start" textLength="68.8" lengthAdjust="spacingAndGlyphs" stroke="#2a2a2a" stroke-width="0.15"><tspan font-size="11.5">C</tspan><tspan font-size="8.5" dy="1.3">10</tspan><tspan font-size="12.3" dy="-1.3"> 47μF 600V</tspan></text>
<text x="814.5" y="555.96" font-size="11" font-family="Liberation Sans" font-weight="normal" fill="#2a2a2a" text-anchor="start" textLength="66.8" lengthAdjust="spacingAndGlyphs" stroke="#2a2a2a" stroke-width="0.15"><tspan font-size="11.5">C</tspan><tspan font-size="8.5" dy="1.3">11</tspan><tspan font-size="12.3" dy="-1.3"> 22μF 600V</tspan></text>
<text x="0" y="0" font-size="13" font-family="Liberation Sans" font-weight="normal" fill="#333" text-anchor="start" textLength="42" lengthAdjust="spacingAndGlyphs" transform="translate(749.2,498.8) rotate(-90)">A-4004</text>
<text x="427.5" y="383.44" font-size="12.9" font-family="Liberation Sans" font-weight="normal" fill="#2a2a2a" text-anchor="start" textLength="14" lengthAdjust="spacingAndGlyphs" stroke="#2a2a2a" stroke-width="0.15"><tspan font-size="12.5">H</tspan><tspan font-size="9.5" dy="1">B</tspan></text>
<text x="344.5" y="412.84" font-size="12.9" font-family="Liberation Sans" font-weight="normal" fill="#2a2a2a" text-anchor="start" textLength="10.2" lengthAdjust="spacingAndGlyphs" stroke="#2a2a2a" stroke-width="0.15"><tspan font-size="11.6">V</tspan><tspan font-size="9.2" dy="1.3">1</tspan></text>
<text x="377.6" y="412.84" font-size="12.9" font-family="Liberation Sans" font-weight="normal" fill="#2a2a2a" text-anchor="start" textLength="11.2" lengthAdjust="spacingAndGlyphs" stroke="#2a2a2a" stroke-width="0.15"><tspan font-size="11.6">V</tspan><tspan font-size="9.2" dy="1.3">2</tspan></text>
<text x="443.8" y="410.94" font-size="12.9" font-family="Liberation Sans" font-weight="normal" fill="#2a2a2a" text-anchor="start" textLength="18.8" lengthAdjust="spacingAndGlyphs" stroke="#2a2a2a" stroke-width="0.15">6.3V</text>
<text x="455" y="439.64" font-size="12.9" font-family="Liberation Sans" font-weight="normal" fill="#2a2a2a" text-anchor="start" textLength="5" lengthAdjust="spacingAndGlyphs" stroke="#2a2a2a" stroke-width="0.15">0</text>
<text x="502.5" y="437.14" font-size="12.9" font-family="Liberation Sans" font-weight="normal" fill="#2a2a2a" text-anchor="start" textLength="25" lengthAdjust="spacingAndGlyphs" stroke="#2a2a2a" stroke-width="0.15">400V</text>
<text x="505" y="464.64" font-size="12.9" font-family="Liberation Sans" font-weight="normal" fill="#2a2a2a" text-anchor="start" textLength="5" lengthAdjust="spacingAndGlyphs" stroke="#2a2a2a" stroke-width="0.15">0</text>
<text x="502.5" y="504.64" font-size="12.9" font-family="Liberation Sans" font-weight="normal" fill="#2a2a2a" text-anchor="start" textLength="25" lengthAdjust="spacingAndGlyphs" stroke="#2a2a2a" stroke-width="0.15">400V</text>
<text x="566" y="420.94" font-size="12.9" font-family="Liberation Sans" font-weight="normal" fill="#2a2a2a" text-anchor="start" textLength="5" lengthAdjust="spacingAndGlyphs" stroke="#2a2a2a" stroke-width="0.15">2</text>
<text x="601" y="457.64" font-size="12.9" font-family="Liberation Sans" font-weight="normal" fill="#2a2a2a" text-anchor="start" textLength="5" lengthAdjust="spacingAndGlyphs" stroke="#2a2a2a" stroke-width="0.15">3</text>
<text x="621" y="415.94" font-size="12.9" font-family="Liberation Sans" font-weight="normal" fill="#2a2a2a" text-anchor="start" textLength="5" lengthAdjust="spacingAndGlyphs" stroke="#2a2a2a" stroke-width="0.15">4</text>
<text x="621" y="439.64" font-size="12.9" font-family="Liberation Sans" font-weight="normal" fill="#2a2a2a" text-anchor="start" textLength="3.5" lengthAdjust="spacingAndGlyphs" stroke="#2a2a2a" stroke-width="0.15">1</text>
<text x="600" y="484.64" font-size="12.9" font-family="Liberation Sans" font-weight="normal" fill="#2a2a2a" text-anchor="start" textLength="5" lengthAdjust="spacingAndGlyphs" stroke="#2a2a2a" stroke-width="0.15">3</text>
<text x="566" y="520.94" font-size="12.9" font-family="Liberation Sans" font-weight="normal" fill="#2a2a2a" text-anchor="start" textLength="5" lengthAdjust="spacingAndGlyphs" stroke="#2a2a2a" stroke-width="0.15">2</text>
<text x="620" y="503.44" font-size="12.9" font-family="Liberation Sans" font-weight="normal" fill="#2a2a2a" text-anchor="start" textLength="5" lengthAdjust="spacingAndGlyphs" stroke="#2a2a2a" stroke-width="0.15">4</text>
<text x="620" y="524.64" font-size="12.9" font-family="Liberation Sans" font-weight="normal" fill="#2a2a2a" text-anchor="start" textLength="3.5" lengthAdjust="spacingAndGlyphs" stroke="#2a2a2a" stroke-width="0.15">1</text>
<text x="298.8" y="466.48" font-size="13" font-family="Liberation Sans" font-weight="normal" fill="#111" text-anchor="start" textLength="65.7" lengthAdjust="spacingAndGlyphs">3 Pin Diode</text>
<text x="312.2" y="485.64" font-size="11.5" font-family="Liberation Sans" font-weight="normal" fill="#555" text-anchor="start" textLength="51.5" lengthAdjust="spacingAndGlyphs" stroke="#2a2a2a" stroke-width="0.15">C-87-009</text>
<text x="242.5" y="454.64" font-size="12.9" font-family="Liberation Sans" font-weight="normal" fill="#2a2a2a" text-anchor="start" textLength="12.5" lengthAdjust="spacingAndGlyphs" stroke="#2a2a2a" stroke-width="0.15"><tspan font-size="11.6">D</tspan><tspan font-size="9.2" dy="1.3">2</tspan></text>
<text x="413.8" y="491.14" font-size="12.9" font-family="Liberation Sans" font-weight="normal" fill="#2a2a2a" text-anchor="start" textLength="12" lengthAdjust="spacingAndGlyphs" stroke="#2a2a2a" stroke-width="0.15"><tspan font-size="11.6">D</tspan><tspan font-size="9.2" dy="1.3">1</tspan></text>
<text x="450" y="468.14" font-size="12.9" font-family="Liberation Sans" font-weight="normal" fill="#2a2a2a" text-anchor="start" textLength="17.5" lengthAdjust="spacingAndGlyphs" stroke="#2a2a2a" stroke-width="0.15">7.5V</text>
<text x="452.5" y="553.44" font-size="12.9" font-family="Liberation Sans" font-weight="normal" fill="#2a2a2a" text-anchor="start" textLength="16.3" lengthAdjust="spacingAndGlyphs" stroke="#2a2a2a" stroke-width="0.15">7.5V</text>
<text x="453.8" y="503.44" font-size="12.9" font-family="Liberation Sans" font-weight="normal" fill="#2a2a2a" text-anchor="start" textLength="5" lengthAdjust="spacingAndGlyphs" stroke="#2a2a2a" stroke-width="0.15">0</text>
<text x="208.8" y="501.57" font-size="11.3" font-family="Liberation Sans" font-weight="normal" fill="#2a2a2a" text-anchor="start" textLength="16.3" lengthAdjust="spacingAndGlyphs" stroke="#2a2a2a" stroke-width="0.3">OUT</text>
<text x="275" y="501.57" font-size="11.3" font-family="Liberation Sans" font-weight="normal" fill="#2a2a2a" text-anchor="start" textLength="11.3" lengthAdjust="spacingAndGlyphs" stroke="#2a2a2a" stroke-width="0.15">IN</text>
<text x="240" y="502.14" font-size="12.9" font-family="Liberation Sans" font-weight="normal" fill="#2a2a2a" text-anchor="start" textLength="17.5" lengthAdjust="spacingAndGlyphs" stroke="#2a2a2a" stroke-width="0.15">LM</text>
<text x="238" y="517.14" font-size="12.9" font-family="Liberation Sans" font-weight="normal" fill="#2a2a2a" text-anchor="start" textLength="20.8" lengthAdjust="spacingAndGlyphs" stroke="#2a2a2a" stroke-width="0.15">350</text>
<text x="231.3" y="535.94" font-size="12.9" font-family="Liberation Sans" font-weight="normal" fill="#2a2a2a" text-anchor="start" textLength="13.8" lengthAdjust="spacingAndGlyphs" stroke="#2a2a2a" stroke-width="0.15">AJ</text>
<text x="275" y="523.44" font-size="12.9" font-family="Liberation Sans" font-weight="normal" fill="#2a2a2a" text-anchor="start" textLength="14.5" lengthAdjust="spacingAndGlyphs" stroke="#2a2a2a" stroke-width="0.15"><tspan font-size="11.6">R</tspan><tspan font-size="9.2" dy="1.3">15</tspan></text>
<text x="265" y="537.14" font-size="12.9" font-family="Liberation Sans" font-weight="normal" fill="#2a2a2a" text-anchor="start" textLength="22.5" lengthAdjust="spacingAndGlyphs" stroke="#2a2a2a" stroke-width="0.15">240Ω</text>
<text x="330" y="530.94" font-size="12.9" font-family="Liberation Sans" font-weight="normal" fill="#2a2a2a" text-anchor="start" textLength="12.5" lengthAdjust="spacingAndGlyphs" stroke="#2a2a2a" stroke-width="0.15"><tspan font-size="11.6">D</tspan><tspan font-size="9.2" dy="1.3">3</tspan></text>
<text x="332.5" y="547.14" font-size="12.9" font-family="Liberation Sans" font-weight="normal" fill="#2a2a2a" text-anchor="start" textLength="15" lengthAdjust="spacingAndGlyphs" stroke="#2a2a2a" stroke-width="0.15"><tspan font-size="11.6">C</tspan><tspan font-size="9.2" dy="1.3">12</tspan></text>
<text x="321.3" y="559.64" font-size="12.9" font-family="Liberation Sans" font-weight="normal" fill="#2a2a2a" text-anchor="start" textLength="28.8" lengthAdjust="spacingAndGlyphs" stroke="#2a2a2a" stroke-width="0.15">10,000</text>
<text x="338.8" y="572.14" font-size="12.9" font-family="Liberation Sans" font-weight="normal" fill="#2a2a2a" text-anchor="start" textLength="11.5" lengthAdjust="spacingAndGlyphs" stroke="#2a2a2a" stroke-width="0.15">μF</text>
<text x="361.3" y="572.14" font-size="12.9" font-family="Liberation Sans" font-weight="normal" fill="#2a2a2a" text-anchor="start" textLength="15" lengthAdjust="spacingAndGlyphs" stroke="#2a2a2a" stroke-width="0.15">16V</text>
<text x="361.5" y="536.1" font-size="10" font-family="Liberation Sans" font-weight="normal" fill="#2a2a2a" text-anchor="start" textLength="7" lengthAdjust="spacingAndGlyphs" stroke="#2a2a2a" stroke-width="0.15">+</text>
<text x="362.5" y="557.4" font-size="10" font-family="Liberation Sans" font-weight="normal" fill="#2a2a2a" text-anchor="start" textLength="4" lengthAdjust="spacingAndGlyphs" stroke="#2a2a2a" stroke-width="0.15">-</text>
<text x="179.5" y="539.14" font-size="12.9" font-family="Liberation Sans" font-weight="normal" fill="#2a2a2a" text-anchor="start" textLength="15.3" lengthAdjust="spacingAndGlyphs" stroke="#2a2a2a" stroke-width="0.15"><tspan font-size="12.5">C</tspan><tspan font-size="9.5" dy="0.6">13</tspan></text>
<text x="169.3" y="551.84" font-size="12.9" font-family="Liberation Sans" font-weight="normal" fill="#2a2a2a" text-anchor="start" textLength="24" lengthAdjust="spacingAndGlyphs" stroke="#2a2a2a" stroke-width="0.15">47μF</text>
<text x="177.3" y="564.94" font-size="12.9" font-family="Liberation Sans" font-weight="normal" fill="#2a2a2a" text-anchor="start" textLength="17.5" lengthAdjust="spacingAndGlyphs" stroke="#2a2a2a" stroke-width="0.15">25V</text>
<text x="209" y="536.1" font-size="10" font-family="Liberation Sans" font-weight="normal" fill="#2a2a2a" text-anchor="start" textLength="7" lengthAdjust="spacingAndGlyphs" stroke="#2a2a2a" stroke-width="0.15">+</text>
<text x="210" y="557.4" font-size="10" font-family="Liberation Sans" font-weight="normal" fill="#2a2a2a" text-anchor="start" textLength="4" lengthAdjust="spacingAndGlyphs" stroke="#2a2a2a" stroke-width="0.15">-</text>
<text x="223.8" y="563.44" font-size="12.9" font-family="Liberation Sans" font-weight="normal" fill="#2a2a2a" text-anchor="start" textLength="18" lengthAdjust="spacingAndGlyphs" stroke="#2a2a2a" stroke-width="0.15"><tspan font-size="11.6">VR</tspan><tspan font-size="9.2" dy="1.3">2</tspan></text>
<text x="218.8" y="573.44" font-size="12.9" font-family="Liberation Sans" font-weight="normal" fill="#2a2a2a" text-anchor="start" textLength="17.5" lengthAdjust="spacingAndGlyphs" stroke="#2a2a2a" stroke-width="0.15">1kΩ</text>
<text x="145.2" y="509.24" font-size="12.9" font-family="Liberation Sans" font-weight="normal" fill="#2a2a2a" text-anchor="start" textLength="5.8" lengthAdjust="spacingAndGlyphs" stroke="#2a2a2a" stroke-width="0.15">F</text>
<text x="144.5" y="587.24" font-size="12.9" font-family="Liberation Sans" font-weight="normal" fill="#2a2a2a" text-anchor="start" textLength="5.8" lengthAdjust="spacingAndGlyphs" stroke="#2a2a2a" stroke-width="0.15">F</text>
<text x="501.3" y="560.94" font-size="12.9" font-family="Liberation Sans" font-weight="normal" fill="#2a2a2a" text-anchor="start" textLength="12" lengthAdjust="spacingAndGlyphs" stroke="#2a2a2a" stroke-width="0.15">5V</text>
<text x="502.5" y="597.94" font-size="12.9" font-family="Liberation Sans" font-weight="normal" fill="#2a2a2a" text-anchor="start" textLength="5" lengthAdjust="spacingAndGlyphs" stroke="#2a2a2a" stroke-width="0.15">0</text>
<text x="439.3" y="625.94" font-size="12.9" font-family="Liberation Sans" font-weight="normal" fill="#2a2a2a" text-anchor="start" textLength="23" lengthAdjust="spacingAndGlyphs" stroke="#2a2a2a" stroke-width="0.15">100V</text>
<text x="451.3" y="670.94" font-size="12.9" font-family="Liberation Sans" font-weight="normal" fill="#2a2a2a" text-anchor="start" textLength="5" lengthAdjust="spacingAndGlyphs" stroke="#2a2a2a" stroke-width="0.15">0</text>
<text x="448" y="694.87" font-size="11.3" font-family="Liberation Sans" font-weight="normal" fill="#444" text-anchor="start" textLength="45" lengthAdjust="spacingAndGlyphs" stroke="#2a2a2a" stroke-width="0.15">NKM-007</text>
<text x="5.1" y="639.34" font-size="12.9" font-family="Liberation Sans" font-weight="normal" fill="#2a2a2a" text-anchor="start" textLength="14.3" lengthAdjust="spacingAndGlyphs" stroke="#2a2a2a" stroke-width="0.15">AC</text>
<text x="2" y="652.64" font-size="12.9" font-family="Liberation Sans" font-weight="normal" fill="#2a2a2a" text-anchor="start" textLength="22.5" lengthAdjust="spacingAndGlyphs" stroke="#2a2a2a" stroke-width="0.15">100V</text>
<text x="202" y="631.8" font-size="12.5" font-family="Liberation Sans" font-weight="normal" fill="#111" text-anchor="start" textLength="64.3" lengthAdjust="spacingAndGlyphs">Thermester</text>
<text x="164.5" y="698" font-size="12.5" font-family="Liberation Sans" font-weight="normal" fill="#111" text-anchor="start" textLength="90.5" lengthAdjust="spacingAndGlyphs">Circuit Protector</text>
<text x="268.4" y="694.56" font-size="11" font-family="Liberation Sans" font-weight="normal" fill="#555" text-anchor="start" textLength="21.8" lengthAdjust="spacingAndGlyphs">—5A</text>
<text x="339.6" y="647.52" font-size="12" font-family="Liberation Sans" font-weight="normal" fill="#666" text-anchor="start" textLength="16.7" lengthAdjust="spacingAndGlyphs">P.L</text>
<text x="69.3" y="302.44" font-size="12.9" font-family="Liberation Sans" font-weight="normal" fill="#2a2a2a" text-anchor="start" textLength="6.7" lengthAdjust="spacingAndGlyphs" stroke="#2a2a2a" stroke-width="0.15">G</text>
<text x="4.9" y="317.34" font-size="12.9" font-family="Liberation Sans" font-weight="normal" fill="#2a2a2a" text-anchor="start" textLength="5.8" lengthAdjust="spacingAndGlyphs" stroke="#2a2a2a" stroke-width="0.15">P</text>
<text x="4.9" y="342.04" font-size="12.9" font-family="Liberation Sans" font-weight="normal" fill="#2a2a2a" text-anchor="start" textLength="6.2" lengthAdjust="spacingAndGlyphs" stroke="#2a2a2a" stroke-width="0.15">H</text>
<text x="86" y="342.04" font-size="12.9" font-family="Liberation Sans" font-weight="normal" fill="#2a2a2a" text-anchor="start" textLength="6.2" lengthAdjust="spacingAndGlyphs" stroke="#2a2a2a" stroke-width="0.15">H</text>
<text x="14.6" y="358.94" font-size="12.9" font-family="Liberation Sans" font-weight="normal" fill="#2a2a2a" text-anchor="start" textLength="12" lengthAdjust="spacingAndGlyphs" stroke="#2a2a2a" stroke-width="0.15">BS</text>
<text x="72.1" y="358.94" font-size="12.9" font-family="Liberation Sans" font-weight="normal" fill="#2a2a2a" text-anchor="start" textLength="5.6" lengthAdjust="spacingAndGlyphs" stroke="#2a2a2a" stroke-width="0.15">K</text>
<text x="36.9" y="488.64" font-size="12.9" font-family="Liberation Sans" font-weight="normal" fill="#2a2a2a" text-anchor="start" textLength="19.7" lengthAdjust="spacingAndGlyphs" stroke="#2a2a2a" stroke-width="0.15">KEY</text>
<text x="36.9" y="501.14" font-size="12.9" font-family="Liberation Sans" font-weight="normal" fill="#2a2a2a" text-anchor="start" textLength="18" lengthAdjust="spacingAndGlyphs" stroke="#2a2a2a" stroke-width="0.15">8EL</text>
</svg>
</body></html>
